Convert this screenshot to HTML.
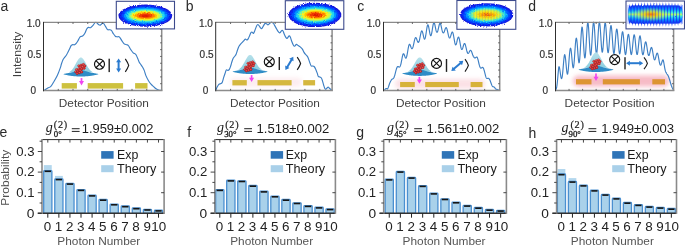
<!DOCTYPE html>
<html><head><meta charset="utf-8"><title>Figure</title><style>html,body{margin:0;padding:0;background:#fff;width:685px;height:246px;overflow:hidden}svg{display:block;will-change:transform}</style></head><body>
<svg width="685" height="246" viewBox="0 0 685 246"><defs>
<radialGradient id="jet" cx="0.5" cy="0.5" r="0.5">
  <stop offset="0" stop-color="#c80a00"/>
  <stop offset="0.14" stop-color="#f03000"/>
  <stop offset="0.28" stop-color="#ff8c00"/>
  <stop offset="0.40" stop-color="#ffe800"/>
  <stop offset="0.52" stop-color="#a8ff58"/>
  <stop offset="0.63" stop-color="#28f0e0"/>
  <stop offset="0.76" stop-color="#00a8ff"/>
  <stop offset="0.88" stop-color="#0848ff"/>
  <stop offset="0.97" stop-color="#0a10d8"/>
  <stop offset="1" stop-color="#2030d0" stop-opacity="0.4"/>
</radialGradient>
<radialGradient id="jetc" cx="0.5" cy="0.5" r="0.5">
  <stop offset="0" stop-color="#f05000"/>
  <stop offset="0.16" stop-color="#ff9800"/>
  <stop offset="0.30" stop-color="#f4f010"/>
  <stop offset="0.45" stop-color="#a0ff60"/>
  <stop offset="0.58" stop-color="#30f0d8"/>
  <stop offset="0.72" stop-color="#00b0ff"/>
  <stop offset="0.86" stop-color="#0850ff"/>
  <stop offset="0.96" stop-color="#0a10d8"/>
  <stop offset="1" stop-color="#2030d0" stop-opacity="0.4"/>
</radialGradient>
<radialGradient id="core" cx="0.5" cy="0.5" r="0.5">
  <stop offset="0" stop-color="#d81000" stop-opacity="0.95"/>
  <stop offset="0.45" stop-color="#f24000" stop-opacity="0.8"/>
  <stop offset="1" stop-color="#ff9000" stop-opacity="0"/>
</radialGradient>
<radialGradient id="pinkg" cx="0.5" cy="0.5" r="0.5">
  <stop offset="0" stop-color="#f8b8c4"/>
  <stop offset="0.6" stop-color="#f9c2cc"/>
  <stop offset="1" stop-color="#ffffff" stop-opacity="0"/>
</radialGradient>
<linearGradient id="gauss" x1="0" y1="0" x2="0" y2="1">
  <stop offset="0" stop-color="#b6e0ea"/>
  <stop offset="1" stop-color="#8ccfe0"/>
</linearGradient>
<linearGradient id="dstripe" x1="0" y1="0" x2="0" y2="1">
  <stop offset="0" stop-color="#1020d0" stop-opacity="0.6"/>
  <stop offset="0.14" stop-color="#0838f8"/>
  <stop offset="0.3" stop-color="#0898ff"/>
  <stop offset="0.42" stop-color="#40e8d8"/>
  <stop offset="0.5" stop-color="#b0f470"/>
  <stop offset="0.58" stop-color="#40e8d8"/>
  <stop offset="0.7" stop-color="#0898ff"/>
  <stop offset="0.86" stop-color="#0838f8"/>
  <stop offset="1" stop-color="#1020d0" stop-opacity="0.6"/>
</linearGradient>
<radialGradient id="dcore" cx="0.5" cy="0.5" r="0.5">
  <stop offset="0" stop-color="#ff7000" stop-opacity="0.95"/>
  <stop offset="0.35" stop-color="#ffd000" stop-opacity="0.8"/>
  <stop offset="0.7" stop-color="#e0f040" stop-opacity="0.35"/>
  <stop offset="1" stop-color="#e0f040" stop-opacity="0"/>
</radialGradient>
<radialGradient id="ball" cx="0.4" cy="0.4" r="0.6">
  <stop offset="0" stop-color="#f06060"/>
  <stop offset="0.6" stop-color="#dc3030"/>
  <stop offset="1" stop-color="#b82020"/>
</radialGradient>
<filter id="blur2" x="-20%" y="-60%" width="140%" height="220%"><feGaussianBlur stdDeviation="2.2"/></filter>
<filter id="blur06" x="-10%" y="-20%" width="120%" height="140%"><feGaussianBlur stdDeviation="0.7"/></filter>
<filter id="speck" x="-5%" y="-10%" width="110%" height="120%">
  <feGaussianBlur in="SourceGraphic" stdDeviation="0.6" result="b"/>
  <feTurbulence type="fractalNoise" baseFrequency="0.9" numOctaves="1" seed="3" result="n"/>
  <feDisplacementMap in="b" in2="n" scale="3.2" xChannelSelector="R" yChannelSelector="G"/>
</filter>
<filter id="speck2" x="-5%" y="-10%" width="110%" height="120%">
  <feGaussianBlur in="SourceGraphic" stdDeviation="0.3" result="b"/>
  <feTurbulence type="fractalNoise" baseFrequency="0.9" numOctaves="1" seed="7" result="n"/>
  <feDisplacementMap in="b" in2="n" scale="1.8" xChannelSelector="R" yChannelSelector="G"/>
</filter>
<filter id="blur1" x="-20%" y="-50%" width="140%" height="200%"><feGaussianBlur stdDeviation="1.6"/></filter>
<filter id="blur05"><feGaussianBlur stdDeviation="0.5"/></filter>
<clipPath id="clipc"><ellipse cx="486.6" cy="14.8" rx="26.6" ry="11.65"/></clipPath></defs><rect width="685" height="246" fill="#fff"/><text x="0.4" y="11.3" font-size="14" fill="#2a2a2a" text-anchor="start" font-family='"Liberation Sans", sans-serif' >a</text>
<text x="185.8" y="11" font-size="14" fill="#2a2a2a" text-anchor="start" font-family='"Liberation Sans", sans-serif' >b</text>
<text x="357.3" y="11.1" font-size="14" fill="#2a2a2a" text-anchor="start" font-family='"Liberation Sans", sans-serif' >c</text>
<text x="528.3" y="11.1" font-size="14" fill="#2a2a2a" text-anchor="start" font-family='"Liberation Sans", sans-serif' >d</text>
<text x="-0.6" y="137" font-size="14" fill="#2a2a2a" text-anchor="start" font-family='"Liberation Sans", sans-serif' >e</text>
<text x="187.2" y="137.3" font-size="14" fill="#2a2a2a" text-anchor="start" font-family='"Liberation Sans", sans-serif' >f</text>
<text x="356.3" y="137" font-size="14" fill="#2a2a2a" text-anchor="start" font-family='"Liberation Sans", sans-serif' >g</text>
<text x="528.6" y="137.6" font-size="14" fill="#2a2a2a" text-anchor="start" font-family='"Liberation Sans", sans-serif' >h</text>
<rect x="61.7" y="83.1" width="15.2" height="5.5" fill="#cdc13f"/>
<rect x="87.7" y="83.1" width="35.4" height="5.5" fill="#cdc13f"/>
<rect x="135.1" y="83.1" width="12.4" height="5.5" fill="#cdc13f"/>
<path d="M43.5,90.5 C43.67,90.45 43.78,90.62 44.5,90.2 C45.22,89.78 46.78,88.58 47.8,88 C48.82,87.42 49.65,87.65 50.6,86.7 C51.55,85.75 52.38,84.15 53.5,82.3 C54.62,80.45 56.17,78 57.3,75.6 C58.43,73.2 59.62,69.83 60.3,67.9 C60.98,65.97 60.93,65.42 61.4,64 C61.87,62.58 62.53,60.55 63.1,59.4 C63.67,58.25 64.22,57.87 64.8,57.1 C65.38,56.33 66.02,55.75 66.6,54.8 C67.18,53.85 67.73,52.53 68.3,51.4 C68.87,50.27 69.53,48.95 70,48 C70.47,47.05 70.63,46.27 71.1,45.7 C71.57,45.13 72.23,44.75 72.8,44.6 C73.37,44.45 73.93,45 74.5,44.8 C75.07,44.6 75.62,44.1 76.2,43.4 C76.78,42.7 77.35,41.7 78,40.6 C78.65,39.5 79.33,37.57 80.1,36.8 C80.87,36.03 81.78,36.63 82.6,36 C83.42,35.37 84.32,34.17 85,33 C85.68,31.83 86.15,29.93 86.7,29 C87.25,28.07 87.67,27.62 88.3,27.4 C88.93,27.18 89.68,28.08 90.5,27.7 C91.32,27.32 92.43,25.95 93.2,25.1 C93.97,24.25 94.57,23.03 95.1,22.6 C95.63,22.17 95.85,22.18 96.4,22.5 C96.95,22.82 97.75,24.07 98.4,24.5 C99.05,24.93 99.65,25.3 100.3,25.1 C100.95,24.9 101.75,23.6 102.3,23.3 C102.85,23 103.07,22.78 103.6,23.3 C104.13,23.82 104.85,25.35 105.5,26.4 C106.15,27.45 106.85,29.05 107.5,29.6 C108.15,30.15 108.75,29.58 109.4,29.7 C110.05,29.82 110.75,29.65 111.4,30.3 C112.05,30.95 112.65,32.62 113.3,33.6 C113.95,34.58 114.65,35.67 115.3,36.2 C115.95,36.73 116.53,36.68 117.2,36.8 C117.87,36.92 118.53,36.27 119.3,36.9 C120.07,37.53 120.98,39.43 121.8,40.6 C122.62,41.77 123.38,43.22 124.2,43.9 C125.02,44.58 126.02,44.43 126.7,44.7 C127.38,44.97 127.62,44.68 128.3,45.5 C128.98,46.32 129.98,48.38 130.8,49.6 C131.62,50.82 132.38,52 133.2,52.8 C134.02,53.6 135,53.58 135.7,54.4 C136.4,55.22 136.83,56.45 137.4,57.7 C137.97,58.95 138.53,60.77 139.1,61.9 C139.67,63.03 140.23,63.65 140.8,64.5 C141.37,65.35 141.93,66.02 142.5,67 C143.07,67.98 143.63,68.97 144.2,70.4 C144.77,71.83 145.18,73.88 145.9,75.6 C146.62,77.32 147.65,79.28 148.5,80.7 C149.35,82.12 150.15,83.12 151,84.1 C151.85,85.08 152.75,85.82 153.6,86.6 C154.45,87.38 155.25,88.23 156.1,88.8 C156.95,89.37 157.77,89.72 158.7,90 C159.63,90.28 161.2,90.42 161.7,90.5" fill="none" stroke="#3d7fc4" stroke-width="1.15" stroke-linejoin="round"/>
<path d="M68.9,72.21 L69.2,72.07 L69.5,71.91 L69.8,71.73 L70.1,71.53 L70.4,71.31 L70.7,71.08 L71,70.81 L71.3,70.53 L71.6,70.22 L71.9,69.89 L72.2,69.54 L72.5,69.16 L72.8,68.75 L73.1,68.33 L73.4,67.88 L73.7,67.4 L74,66.91 L74.3,66.4 L74.6,65.88 L74.9,65.34 L75.2,64.79 L75.5,64.24 L75.8,63.68 L76.1,63.12 L76.4,62.56 L76.7,62.02 L77,61.48 L77.3,60.96 L77.6,60.47 L77.9,59.99 L78.2,59.55 L78.5,59.15 L78.8,58.78 L79.1,58.45 L79.4,58.16 L79.7,57.93 L80,57.74 L80.3,57.61 L80.6,57.53 L80.9,57.5 L81.2,57.53 L81.5,57.61 L81.8,57.74 L82.1,57.93 L82.4,58.16 L82.7,58.45 L83,58.78 L83.3,59.15 L83.6,59.55 L83.9,59.99 L84.2,60.47 L84.5,60.96 L84.8,61.48 L85.1,62.02 L85.4,62.56 L85.7,63.12 L86,63.68 L86.3,64.24 L86.6,64.79 L86.9,65.34 L87.2,65.88 L87.5,66.4 L87.8,66.91 L88.1,67.4 L88.4,67.88 L88.7,68.33 L89,68.75 L89.3,69.16 L89.6,69.54 L89.9,69.89 L90.2,70.22 L90.5,70.53 L90.8,70.81 L91.1,71.08 L91.4,71.31 L91.7,71.53 L92,71.73 L92.3,71.91 L92.6,72.07 L92.9,72.21 Z" fill="url(#gauss)"/>
<path d="M63.4,74 L63.75,73.92 L64.1,73.85 L64.45,73.78 L64.8,73.7 L65.15,73.63 L65.5,73.57 L65.85,73.5 L66.2,73.43 L66.55,73.37 L66.9,73.3 L67.25,73.24 L67.6,73.17 L67.95,73.11 L68.3,73.05 L68.65,72.98 L69,72.92 L69.35,72.85 L69.7,72.79 L70.05,72.72 L70.4,72.65 L70.75,72.58 L71.1,72.51 L71.45,72.43 L71.8,72.35 L72.15,72.27 L72.5,72.19 L72.85,72.1 L73.2,72.01 L73.55,71.91 L73.9,71.81 L74.25,71.7 L74.6,71.6 L74.95,71.49 L75.3,71.37 L75.65,71.26 L76,71.14 L76.35,71.03 L76.7,70.92 L77.05,70.8 L77.4,70.7 L77.75,70.6 L78.1,70.5 L78.45,70.41 L78.8,70.33 L79.15,70.26 L79.5,70.21 L79.85,70.16 L80.2,70.13 L80.55,70.11 L80.9,70.1 L81.25,70.11 L81.6,70.13 L81.95,70.16 L82.3,70.21 L82.65,70.26 L83,70.33 L83.35,70.41 L83.7,70.5 L84.05,70.6 L84.4,70.7 L84.75,70.8 L85.1,70.92 L85.45,71.03 L85.8,71.14 L86.15,71.26 L86.5,71.37 L86.85,71.49 L87.2,71.6 L87.55,71.7 L87.9,71.81 L88.25,71.91 L88.6,72.01 L88.95,72.1 L89.3,72.19 L89.65,72.27 L90,72.35 L90.35,72.43 L90.7,72.51 L91.05,72.58 L91.4,72.65 L91.75,72.72 L92.1,72.79 L92.45,72.85 L92.8,72.92 L93.15,72.98 L93.5,73.05 L93.85,73.11 L94.2,73.17 L94.55,73.24 L94.9,73.3 L95.25,73.37 L95.6,73.43 L95.95,73.5 L96.3,73.57 L96.65,73.63 L97,73.7 L97.35,73.78 L97.7,73.85 L98.05,73.92 L98.4,74 L98.4,74.2 L98.05,74.33 L97.7,74.43 L97.35,74.53 L97,74.63 L96.65,74.72 L96.3,74.8 L95.95,74.89 L95.6,74.97 L95.25,75.04 L94.9,75.12 L94.55,75.19 L94.2,75.26 L93.85,75.33 L93.5,75.39 L93.15,75.45 L92.8,75.52 L92.45,75.57 L92.1,75.63 L91.75,75.69 L91.4,75.74 L91.05,75.79 L90.7,75.84 L90.35,75.89 L90,75.93 L89.65,75.98 L89.3,76.02 L88.95,76.06 L88.6,76.1 L88.25,76.13 L87.9,76.17 L87.55,76.2 L87.2,76.23 L86.85,76.26 L86.5,76.29 L86.15,76.31 L85.8,76.34 L85.45,76.36 L85.1,76.38 L84.75,76.4 L84.4,76.42 L84.05,76.43 L83.7,76.45 L83.35,76.46 L83,76.47 L82.65,76.48 L82.3,76.49 L81.95,76.49 L81.6,76.5 L81.25,76.5 L80.9,76.5 L80.55,76.5 L80.2,76.5 L79.85,76.49 L79.5,76.49 L79.15,76.48 L78.8,76.47 L78.45,76.46 L78.1,76.45 L77.75,76.43 L77.4,76.42 L77.05,76.4 L76.7,76.38 L76.35,76.36 L76,76.34 L75.65,76.31 L75.3,76.29 L74.95,76.26 L74.6,76.23 L74.25,76.2 L73.9,76.17 L73.55,76.13 L73.2,76.1 L72.85,76.06 L72.5,76.02 L72.15,75.98 L71.8,75.93 L71.45,75.89 L71.1,75.84 L70.75,75.79 L70.4,75.74 L70.05,75.69 L69.7,75.63 L69.35,75.57 L69,75.52 L68.65,75.45 L68.3,75.39 L67.95,75.33 L67.6,75.26 L67.25,75.19 L66.9,75.12 L66.55,75.04 L66.2,74.97 L65.85,74.89 L65.5,74.8 L65.15,74.72 L64.8,74.63 L64.45,74.53 L64.1,74.43 L63.75,74.33 L63.4,74.2 Z" fill="#2f8cc6"/>
<circle cx="75.69" cy="71.86" r="1.2" fill="url(#ball)" stroke="#a01818" stroke-width="0.35"/>
<circle cx="77.18" cy="73.41" r="1.2" fill="url(#ball)" stroke="#a01818" stroke-width="0.35"/>
<circle cx="76.49" cy="69.59" r="1.2" fill="url(#ball)" stroke="#a01818" stroke-width="0.35"/>
<circle cx="77.98" cy="71.14" r="1.2" fill="url(#ball)" stroke="#a01818" stroke-width="0.35"/>
<circle cx="79.47" cy="72.69" r="1.2" fill="url(#ball)" stroke="#a01818" stroke-width="0.35"/>
<circle cx="78.78" cy="68.87" r="1.2" fill="url(#ball)" stroke="#a01818" stroke-width="0.35"/>
<circle cx="80.27" cy="70.42" r="1.2" fill="url(#ball)" stroke="#a01818" stroke-width="0.35"/>
<circle cx="81.77" cy="71.97" r="1.2" fill="url(#ball)" stroke="#a01818" stroke-width="0.35"/>
<circle cx="78.83" cy="65.83" r="1.2" fill="url(#ball)" stroke="#a01818" stroke-width="0.35"/>
<circle cx="80.33" cy="67.38" r="1.2" fill="url(#ball)" stroke="#a01818" stroke-width="0.35"/>
<circle cx="81.82" cy="68.93" r="1.2" fill="url(#ball)" stroke="#a01818" stroke-width="0.35"/>
<circle cx="81.13" cy="65.11" r="1.2" fill="url(#ball)" stroke="#a01818" stroke-width="0.35"/>
<circle cx="82.62" cy="66.66" r="1.2" fill="url(#ball)" stroke="#a01818" stroke-width="0.35"/>
<circle cx="84.11" cy="68.21" r="1.2" fill="url(#ball)" stroke="#a01818" stroke-width="0.35"/>
<circle cx="83.42" cy="64.39" r="1.2" fill="url(#ball)" stroke="#a01818" stroke-width="0.35"/>
<circle cx="84.91" cy="65.94" r="1.2" fill="url(#ball)" stroke="#a01818" stroke-width="0.35"/>
<circle cx="99.5" cy="64.2" r="5" fill="#fff" fill-opacity="0.0" stroke="#111" stroke-width="1.15"/>
<path d="M95.96,60.66 L103.04,67.74 M95.96,67.74 L103.04,60.66" stroke="#111" stroke-width="1.1"/>
<rect x="108.5" y="58.7" width="1.4" height="13.4" fill="#222"/>
<line x1="118.6" y1="69.36" x2="118.6" y2="61.44" stroke="#2a7bd0" stroke-width="2"/>
<path d="M118.6,58.4 L121.1,62.2 L116.1,62.2 Z" fill="#2a7bd0"/>
<path d="M118.6,72.4 L121.1,68.6 L116.1,68.6 Z" fill="#2a7bd0"/>
<path d="M125.3,58.9 Q127.9,62.8 128.7,65.4 Q127.9,68 125.3,71.9" fill="none" stroke="#1a1a1a" stroke-width="1.15"/>
<line x1="81.5" y1="78.1" x2="81.5" y2="82.1" stroke="#f046f0" stroke-width="1.7"/>
<path d="M79,81.1 L84,81.1 L81.5,85.4 Z" fill="#f046f0"/>
<line x1="43.5" y1="22.4" x2="161.7" y2="22.4" stroke="#8a8a8a" stroke-width="1.1"/>
<line x1="43.5" y1="90.5" x2="162.5" y2="90.5" stroke="#8c8c8c" stroke-width="1.6"/>
<line x1="161.7" y1="22.4" x2="161.7" y2="90.5" stroke="#8c8c8c" stroke-width="1.5"/>
<line x1="43.5" y1="21.9" x2="43.5" y2="91.3" stroke="#303030" stroke-width="1.0"/>
<line x1="58.25" y1="22.4" x2="58.25" y2="24" stroke="#444" stroke-width="0.8"/>
<line x1="58.25" y1="90.5" x2="58.25" y2="88.9" stroke="#444" stroke-width="0.8"/>
<line x1="73" y1="22.4" x2="73" y2="24" stroke="#444" stroke-width="0.8"/>
<line x1="73" y1="90.5" x2="73" y2="88.9" stroke="#444" stroke-width="0.8"/>
<line x1="87.75" y1="22.4" x2="87.75" y2="24" stroke="#444" stroke-width="0.8"/>
<line x1="87.75" y1="90.5" x2="87.75" y2="88.9" stroke="#444" stroke-width="0.8"/>
<line x1="102.5" y1="22.4" x2="102.5" y2="24" stroke="#444" stroke-width="0.8"/>
<line x1="102.5" y1="90.5" x2="102.5" y2="88.9" stroke="#444" stroke-width="0.8"/>
<line x1="117.25" y1="22.4" x2="117.25" y2="24" stroke="#444" stroke-width="0.8"/>
<line x1="117.25" y1="90.5" x2="117.25" y2="88.9" stroke="#444" stroke-width="0.8"/>
<line x1="132" y1="22.4" x2="132" y2="24" stroke="#444" stroke-width="0.8"/>
<line x1="132" y1="90.5" x2="132" y2="88.9" stroke="#444" stroke-width="0.8"/>
<line x1="146.75" y1="22.4" x2="146.75" y2="24" stroke="#444" stroke-width="0.8"/>
<line x1="146.75" y1="90.5" x2="146.75" y2="88.9" stroke="#444" stroke-width="0.8"/>
<line x1="161.7" y1="83.69" x2="160.1" y2="83.69" stroke="#444" stroke-width="0.8"/>
<line x1="161.7" y1="76.88" x2="160.1" y2="76.88" stroke="#444" stroke-width="0.8"/>
<line x1="161.7" y1="70.07" x2="160.1" y2="70.07" stroke="#444" stroke-width="0.8"/>
<line x1="161.7" y1="63.26" x2="160.1" y2="63.26" stroke="#444" stroke-width="0.8"/>
<line x1="161.7" y1="56.45" x2="160.1" y2="56.45" stroke="#444" stroke-width="0.8"/>
<line x1="161.7" y1="49.64" x2="160.1" y2="49.64" stroke="#444" stroke-width="0.8"/>
<line x1="161.7" y1="42.83" x2="160.1" y2="42.83" stroke="#444" stroke-width="0.8"/>
<line x1="161.7" y1="36.02" x2="160.1" y2="36.02" stroke="#444" stroke-width="0.8"/>
<line x1="161.7" y1="29.21" x2="160.1" y2="29.21" stroke="#444" stroke-width="0.8"/>
<rect x="116.3" y="1.3" width="58.2" height="27.6" fill="#fff" stroke="#3c4a8c" stroke-width="1.1"/>
<g filter="url(#speck)">
<ellipse cx="145.35" cy="15.65" rx="26.85" ry="11.05" fill="#1818d8"/>
<ellipse cx="145.36" cy="15.65" rx="25.51" ry="10.17" fill="#0a28f4"/>
<ellipse cx="145.38" cy="15.65" rx="23.63" ry="9.17" fill="#0050ff"/>
<ellipse cx="145.4" cy="15.65" rx="21.48" ry="8.07" fill="#0094ff"/>
<ellipse cx="145.42" cy="15.65" rx="19.33" ry="6.96" fill="#20d4f0"/>
<ellipse cx="145.44" cy="15.65" rx="17.18" ry="5.97" fill="#68f4b0"/>
<ellipse cx="145.46" cy="15.65" rx="15.3" ry="5.19" fill="#c4f850"/>
<ellipse cx="145.47" cy="15.65" rx="13.43" ry="4.42" fill="#f8f020"/>
<ellipse cx="145.49" cy="15.65" rx="11.55" ry="3.65" fill="#ffc000"/>
<ellipse cx="145.51" cy="15.65" rx="9.4" ry="2.87" fill="#ff7a00"/>
<ellipse cx="145.54" cy="15.65" rx="6.71" ry="1.99" fill="#f03a00"/>
<ellipse cx="145.57" cy="15.65" rx="3.49" ry="0.99" fill="#dc1c00"/>
</g>
<text x="40.6" y="26.8" font-size="10" fill="#333" text-anchor="end" font-family='"Liberation Sans", sans-serif' stroke="#333" stroke-width="0.2">1.0</text>
<text x="41.3" y="58.3" font-size="10" fill="#333" text-anchor="end" font-family='"Liberation Sans", sans-serif' stroke="#333" stroke-width="0.2">0.5</text>
<text x="30.5" y="93.8" font-size="10" fill="#333" text-anchor="start" font-family='"Liberation Sans", sans-serif' stroke="#333" stroke-width="0.2">0</text>
<text x="103.8" y="106.5" font-size="11.8" fill="#404040" text-anchor="middle" font-family='"Liberation Sans", sans-serif' textLength="90" lengthAdjust="spacingAndGlyphs">Detector Position</text>
<rect x="230" y="77.8" width="72" height="9" rx="4.5" fill="#f6b4c0" opacity="0.24" filter="url(#blur2)"/>
<rect x="232.4" y="80.1" width="14.4" height="5.3" fill="#d5b83e"/>
<rect x="257.5" y="80.1" width="34.1" height="5.3" fill="#d5b83e"/>
<rect x="303.2" y="80.1" width="11.9" height="5.3" fill="#d5b83e"/>
<path d="M215.7,90.5 C215.88,90.03 216.28,88.73 216.8,87.7 C217.32,86.67 218.12,84.98 218.8,84.3 C219.48,83.62 220.32,83.95 220.9,83.6 C221.48,83.25 221.83,83.23 222.3,82.2 C222.77,81.17 223.23,78.9 223.7,77.4 C224.17,75.9 224.65,74.45 225.1,73.2 C225.55,71.95 225.95,70.37 226.4,69.9 C226.85,69.43 227.33,70.43 227.8,70.4 C228.27,70.37 228.73,70.38 229.2,69.7 C229.67,69.02 230.13,67.67 230.6,66.3 C231.07,64.93 231.57,62.83 232,61.5 C232.43,60.17 232.77,59.13 233.2,58.3 C233.63,57.47 234.12,57.18 234.6,56.5 C235.08,55.82 235.62,55.28 236.1,54.2 C236.58,53.12 237.02,51.32 237.5,50 C237.98,48.68 238.38,47.4 239,46.3 C239.62,45.2 240.47,44.25 241.2,43.4 C241.93,42.55 242.72,41.92 243.4,41.2 C244.08,40.48 244.7,39.3 245.3,39.1 C245.9,38.9 246.5,40.08 247,40 C247.5,39.92 247.85,39.37 248.3,38.6 C248.75,37.83 249.23,36.45 249.7,35.4 C250.17,34.35 250.67,32.82 251.1,32.3 C251.53,31.78 251.88,32.13 252.3,32.3 C252.72,32.47 253.15,33.67 253.6,33.3 C254.05,32.93 254.5,31.33 255,30.1 C255.5,28.87 256.13,26.83 256.6,25.9 C257.07,24.97 257.37,24.5 257.8,24.5 C258.23,24.5 258.73,25.32 259.2,25.9 C259.67,26.48 260.17,27.55 260.6,28 C261.03,28.45 261.33,28.95 261.8,28.6 C262.27,28.25 262.87,26.75 263.4,25.9 C263.93,25.05 264.47,23.85 265,23.5 C265.53,23.15 266.1,23.57 266.6,23.8 C267.1,24.03 267.47,24.98 268,24.9 C268.53,24.82 269.28,23.75 269.8,23.3 C270.32,22.85 270.67,22.32 271.1,22.2 C271.53,22.08 272,22.38 272.4,22.6 C272.8,22.82 273.07,22.92 273.5,23.5 C273.93,24.08 274.43,25.1 275,26.1 C275.57,27.1 276.28,28.48 276.9,29.5 C277.52,30.52 278.2,31.65 278.7,32.2 C279.2,32.75 279.38,33.1 279.9,32.8 C280.42,32.5 281.28,30.7 281.8,30.4 C282.32,30.1 282.6,30.4 283,31 C283.4,31.6 283.7,32.88 284.2,34 C284.7,35.12 285.5,36.98 286,37.7 C286.5,38.42 286.68,38.6 287.2,38.3 C287.72,38 288.58,36.1 289.1,35.9 C289.62,35.7 289.9,36.3 290.3,37.1 C290.7,37.9 291,39.38 291.5,40.7 C292,42.02 292.78,44.08 293.3,45 C293.82,45.92 294.08,46.3 294.6,46.2 C295.12,46.1 295.8,44.5 296.4,44.4 C297,44.3 297.57,45.18 298.2,45.6 C298.83,46.02 299.5,46.32 300.2,46.9 C300.9,47.48 301.78,48.23 302.4,49.1 C303.02,49.97 303.42,51.25 303.9,52.1 C304.38,52.95 304.82,53.6 305.3,54.2 C305.78,54.8 306.32,55.08 306.8,55.7 C307.28,56.32 307.72,56.8 308.2,57.9 C308.68,59 309.2,60.95 309.7,62.3 C310.2,63.65 310.72,65.38 311.2,66 C311.68,66.62 312.12,65.92 312.6,66 C313.08,66.08 313.58,65.97 314.1,66.5 C314.62,67.03 315.17,68.05 315.7,69.2 C316.23,70.35 316.87,72.2 317.3,73.4 C317.73,74.6 317.87,75.78 318.3,76.4 C318.73,77.02 319.37,76.8 319.9,77.1 C320.43,77.4 321.05,77.5 321.5,78.2 C321.95,78.9 322.25,80.17 322.6,81.3 C322.95,82.43 323.25,83.85 323.6,85 C323.95,86.15 324.33,87.48 324.7,88.2 C325.07,88.92 325.37,89.38 325.8,89.3 C326.23,89.22 326.87,88.05 327.3,87.7 C327.73,87.35 327.95,87.02 328.4,87.2 C328.85,87.38 329.38,88.25 330,88.8 C330.62,89.35 331.75,90.22 332.1,90.5" fill="none" stroke="#3d7fc4" stroke-width="1.15" stroke-linejoin="round"/>
<path d="M238.1,69.71 L238.4,69.56 L238.7,69.4 L239,69.22 L239.3,69.02 L239.6,68.8 L239.9,68.56 L240.2,68.3 L240.5,68.01 L240.8,67.7 L241.1,67.37 L241.4,67.01 L241.7,66.63 L242,66.22 L242.3,65.79 L242.6,65.34 L242.9,64.87 L243.2,64.37 L243.5,63.86 L243.8,63.33 L244.1,62.79 L244.4,62.24 L244.7,61.68 L245,61.12 L245.3,60.55 L245.6,59.99 L245.9,59.44 L246.2,58.91 L246.5,58.38 L246.8,57.88 L247.1,57.41 L247.4,56.97 L247.7,56.56 L248,56.18 L248.3,55.85 L248.6,55.57 L248.9,55.33 L249.2,55.14 L249.5,55.01 L249.8,54.93 L250.1,54.9 L250.4,54.93 L250.7,55.01 L251,55.14 L251.3,55.33 L251.6,55.57 L251.9,55.85 L252.2,56.18 L252.5,56.56 L252.8,56.97 L253.1,57.41 L253.4,57.88 L253.7,58.38 L254,58.91 L254.3,59.44 L254.6,59.99 L254.9,60.55 L255.2,61.12 L255.5,61.68 L255.8,62.24 L256.1,62.79 L256.4,63.33 L256.7,63.86 L257,64.37 L257.3,64.87 L257.6,65.34 L257.9,65.79 L258.2,66.22 L258.5,66.63 L258.8,67.01 L259.1,67.37 L259.4,67.7 L259.7,68.01 L260,68.3 L260.3,68.56 L260.6,68.8 L260.9,69.02 L261.2,69.22 L261.5,69.4 L261.8,69.56 L262.1,69.71 Z" fill="url(#gauss)"/>
<path d="M232.6,71.5 L232.95,71.42 L233.3,71.35 L233.65,71.28 L234,71.2 L234.35,71.13 L234.7,71.07 L235.05,71 L235.4,70.93 L235.75,70.87 L236.1,70.8 L236.45,70.74 L236.8,70.67 L237.15,70.61 L237.5,70.55 L237.85,70.48 L238.2,70.42 L238.55,70.35 L238.9,70.29 L239.25,70.22 L239.6,70.15 L239.95,70.08 L240.3,70.01 L240.65,69.93 L241,69.85 L241.35,69.77 L241.7,69.69 L242.05,69.6 L242.4,69.51 L242.75,69.41 L243.1,69.31 L243.45,69.2 L243.8,69.1 L244.15,68.99 L244.5,68.87 L244.85,68.76 L245.2,68.64 L245.55,68.53 L245.9,68.42 L246.25,68.3 L246.6,68.2 L246.95,68.1 L247.3,68 L247.65,67.91 L248,67.83 L248.35,67.76 L248.7,67.71 L249.05,67.66 L249.4,67.63 L249.75,67.61 L250.1,67.6 L250.45,67.61 L250.8,67.63 L251.15,67.66 L251.5,67.71 L251.85,67.76 L252.2,67.83 L252.55,67.91 L252.9,68 L253.25,68.1 L253.6,68.2 L253.95,68.3 L254.3,68.42 L254.65,68.53 L255,68.64 L255.35,68.76 L255.7,68.87 L256.05,68.99 L256.4,69.1 L256.75,69.2 L257.1,69.31 L257.45,69.41 L257.8,69.51 L258.15,69.6 L258.5,69.69 L258.85,69.77 L259.2,69.85 L259.55,69.93 L259.9,70.01 L260.25,70.08 L260.6,70.15 L260.95,70.22 L261.3,70.29 L261.65,70.35 L262,70.42 L262.35,70.48 L262.7,70.55 L263.05,70.61 L263.4,70.67 L263.75,70.74 L264.1,70.8 L264.45,70.87 L264.8,70.93 L265.15,71 L265.5,71.07 L265.85,71.13 L266.2,71.2 L266.55,71.28 L266.9,71.35 L267.25,71.42 L267.6,71.5 L267.6,71.7 L267.25,71.83 L266.9,71.93 L266.55,72.03 L266.2,72.13 L265.85,72.22 L265.5,72.3 L265.15,72.39 L264.8,72.47 L264.45,72.54 L264.1,72.62 L263.75,72.69 L263.4,72.76 L263.05,72.83 L262.7,72.89 L262.35,72.95 L262,73.02 L261.65,73.07 L261.3,73.13 L260.95,73.19 L260.6,73.24 L260.25,73.29 L259.9,73.34 L259.55,73.39 L259.2,73.43 L258.85,73.48 L258.5,73.52 L258.15,73.56 L257.8,73.6 L257.45,73.63 L257.1,73.67 L256.75,73.7 L256.4,73.73 L256.05,73.76 L255.7,73.79 L255.35,73.81 L255,73.84 L254.65,73.86 L254.3,73.88 L253.95,73.9 L253.6,73.92 L253.25,73.93 L252.9,73.95 L252.55,73.96 L252.2,73.97 L251.85,73.98 L251.5,73.99 L251.15,73.99 L250.8,74 L250.45,74 L250.1,74 L249.75,74 L249.4,74 L249.05,73.99 L248.7,73.99 L248.35,73.98 L248,73.97 L247.65,73.96 L247.3,73.95 L246.95,73.93 L246.6,73.92 L246.25,73.9 L245.9,73.88 L245.55,73.86 L245.2,73.84 L244.85,73.81 L244.5,73.79 L244.15,73.76 L243.8,73.73 L243.45,73.7 L243.1,73.67 L242.75,73.63 L242.4,73.6 L242.05,73.56 L241.7,73.52 L241.35,73.48 L241,73.43 L240.65,73.39 L240.3,73.34 L239.95,73.29 L239.6,73.24 L239.25,73.19 L238.9,73.13 L238.55,73.07 L238.2,73.02 L237.85,72.95 L237.5,72.89 L237.15,72.83 L236.8,72.76 L236.45,72.69 L236.1,72.62 L235.75,72.54 L235.4,72.47 L235.05,72.39 L234.7,72.3 L234.35,72.22 L234,72.13 L233.65,72.03 L233.3,71.93 L232.95,71.83 L232.6,71.7 Z" fill="#2f8cc6"/>
<circle cx="244.89" cy="69.36" r="1.2" fill="url(#ball)" stroke="#a01818" stroke-width="0.35"/>
<circle cx="246.38" cy="70.91" r="1.2" fill="url(#ball)" stroke="#a01818" stroke-width="0.35"/>
<circle cx="245.69" cy="67.09" r="1.2" fill="url(#ball)" stroke="#a01818" stroke-width="0.35"/>
<circle cx="247.18" cy="68.64" r="1.2" fill="url(#ball)" stroke="#a01818" stroke-width="0.35"/>
<circle cx="248.67" cy="70.19" r="1.2" fill="url(#ball)" stroke="#a01818" stroke-width="0.35"/>
<circle cx="247.98" cy="66.37" r="1.2" fill="url(#ball)" stroke="#a01818" stroke-width="0.35"/>
<circle cx="249.47" cy="67.92" r="1.2" fill="url(#ball)" stroke="#a01818" stroke-width="0.35"/>
<circle cx="250.97" cy="69.47" r="1.2" fill="url(#ball)" stroke="#a01818" stroke-width="0.35"/>
<circle cx="248.03" cy="63.33" r="1.2" fill="url(#ball)" stroke="#a01818" stroke-width="0.35"/>
<circle cx="249.53" cy="64.88" r="1.2" fill="url(#ball)" stroke="#a01818" stroke-width="0.35"/>
<circle cx="251.02" cy="66.43" r="1.2" fill="url(#ball)" stroke="#a01818" stroke-width="0.35"/>
<circle cx="250.33" cy="62.61" r="1.2" fill="url(#ball)" stroke="#a01818" stroke-width="0.35"/>
<circle cx="251.82" cy="64.16" r="1.2" fill="url(#ball)" stroke="#a01818" stroke-width="0.35"/>
<circle cx="253.31" cy="65.71" r="1.2" fill="url(#ball)" stroke="#a01818" stroke-width="0.35"/>
<circle cx="252.62" cy="61.89" r="1.2" fill="url(#ball)" stroke="#a01818" stroke-width="0.35"/>
<circle cx="254.11" cy="63.44" r="1.2" fill="url(#ball)" stroke="#a01818" stroke-width="0.35"/>
<circle cx="269.3" cy="61.7" r="5" fill="#fff" fill-opacity="0.0" stroke="#111" stroke-width="1.15"/>
<path d="M265.76,58.16 L272.84,65.24 M265.76,65.24 L272.84,58.16" stroke="#111" stroke-width="1.1"/>
<rect x="278.6" y="57" width="1.4" height="13" fill="#222"/>
<line x1="286.96" y1="67.39" x2="291.74" y2="59.41" stroke="#2a7bd0" stroke-width="2"/>
<path d="M293.3,56.8 L293.49,61.34 L289.2,58.78 Z" fill="#2a7bd0"/>
<path d="M285.4,70 L289.5,68.02 L285.21,65.46 Z" fill="#2a7bd0"/>
<path d="M297.2,57.2 Q299.8,60.9 300.6,63.5 Q299.8,66.1 297.2,69.8" fill="none" stroke="#1a1a1a" stroke-width="1.15"/>
<line x1="251.6" y1="75.1" x2="251.6" y2="78.7" stroke="#f046f0" stroke-width="1.7"/>
<path d="M249.1,77.7 L254.1,77.7 L251.6,82 Z" fill="#f046f0"/>
<line x1="215.7" y1="22.4" x2="332.1" y2="22.4" stroke="#8a8a8a" stroke-width="1.1"/>
<line x1="215.7" y1="90.5" x2="332.9" y2="90.5" stroke="#8c8c8c" stroke-width="1.6"/>
<line x1="332.1" y1="22.4" x2="332.1" y2="90.5" stroke="#8c8c8c" stroke-width="1.5"/>
<line x1="215.7" y1="21.9" x2="215.7" y2="91.3" stroke="#303030" stroke-width="1.0"/>
<line x1="230.57" y1="22.4" x2="230.57" y2="24" stroke="#444" stroke-width="0.8"/>
<line x1="230.57" y1="90.5" x2="230.57" y2="88.9" stroke="#444" stroke-width="0.8"/>
<line x1="245.44" y1="22.4" x2="245.44" y2="24" stroke="#444" stroke-width="0.8"/>
<line x1="245.44" y1="90.5" x2="245.44" y2="88.9" stroke="#444" stroke-width="0.8"/>
<line x1="260.31" y1="22.4" x2="260.31" y2="24" stroke="#444" stroke-width="0.8"/>
<line x1="260.31" y1="90.5" x2="260.31" y2="88.9" stroke="#444" stroke-width="0.8"/>
<line x1="275.18" y1="22.4" x2="275.18" y2="24" stroke="#444" stroke-width="0.8"/>
<line x1="275.18" y1="90.5" x2="275.18" y2="88.9" stroke="#444" stroke-width="0.8"/>
<line x1="290.05" y1="22.4" x2="290.05" y2="24" stroke="#444" stroke-width="0.8"/>
<line x1="290.05" y1="90.5" x2="290.05" y2="88.9" stroke="#444" stroke-width="0.8"/>
<line x1="304.92" y1="22.4" x2="304.92" y2="24" stroke="#444" stroke-width="0.8"/>
<line x1="304.92" y1="90.5" x2="304.92" y2="88.9" stroke="#444" stroke-width="0.8"/>
<line x1="319.79" y1="22.4" x2="319.79" y2="24" stroke="#444" stroke-width="0.8"/>
<line x1="319.79" y1="90.5" x2="319.79" y2="88.9" stroke="#444" stroke-width="0.8"/>
<line x1="332.1" y1="83.69" x2="330.5" y2="83.69" stroke="#444" stroke-width="0.8"/>
<line x1="332.1" y1="76.88" x2="330.5" y2="76.88" stroke="#444" stroke-width="0.8"/>
<line x1="332.1" y1="70.07" x2="330.5" y2="70.07" stroke="#444" stroke-width="0.8"/>
<line x1="332.1" y1="63.26" x2="330.5" y2="63.26" stroke="#444" stroke-width="0.8"/>
<line x1="332.1" y1="56.45" x2="330.5" y2="56.45" stroke="#444" stroke-width="0.8"/>
<line x1="332.1" y1="49.64" x2="330.5" y2="49.64" stroke="#444" stroke-width="0.8"/>
<line x1="332.1" y1="42.83" x2="330.5" y2="42.83" stroke="#444" stroke-width="0.8"/>
<line x1="332.1" y1="36.02" x2="330.5" y2="36.02" stroke="#444" stroke-width="0.8"/>
<line x1="332.1" y1="29.21" x2="330.5" y2="29.21" stroke="#444" stroke-width="0.8"/>
<rect x="285.3" y="0.7" width="58.5" height="28.6" fill="#fff" stroke="#3c4a8c" stroke-width="1.1"/>
<g filter="url(#speck)">
<ellipse cx="314.85" cy="14.95" rx="26.45" ry="12.15" fill="#1818d8"/>
<ellipse cx="314.92" cy="14.95" rx="25.13" ry="11.18" fill="#0a28f4"/>
<ellipse cx="315.01" cy="14.95" rx="23.28" ry="10.08" fill="#0050ff"/>
<ellipse cx="315.12" cy="14.95" rx="21.16" ry="8.87" fill="#0094ff"/>
<ellipse cx="315.23" cy="14.95" rx="19.04" ry="7.65" fill="#20d4f0"/>
<ellipse cx="315.34" cy="14.95" rx="16.93" ry="6.56" fill="#68f4b0"/>
<ellipse cx="315.43" cy="14.95" rx="15.08" ry="5.71" fill="#c4f850"/>
<ellipse cx="315.52" cy="14.95" rx="13.22" ry="4.86" fill="#f8f020"/>
<ellipse cx="315.62" cy="14.95" rx="11.37" ry="4.01" fill="#ffc000"/>
<ellipse cx="315.73" cy="14.95" rx="9.26" ry="3.16" fill="#ff7a00"/>
<ellipse cx="315.86" cy="14.95" rx="6.61" ry="2.19" fill="#f03a00"/>
<ellipse cx="316.02" cy="14.95" rx="3.44" ry="1.09" fill="#dc1c00"/>
</g>
<text x="212.8" y="26.8" font-size="10" fill="#333" text-anchor="end" font-family='"Liberation Sans", sans-serif' stroke="#333" stroke-width="0.2">1.0</text>
<text x="213.5" y="58.3" font-size="10" fill="#333" text-anchor="end" font-family='"Liberation Sans", sans-serif' stroke="#333" stroke-width="0.2">0.5</text>
<text x="202.7" y="93.8" font-size="10" fill="#333" text-anchor="start" font-family='"Liberation Sans", sans-serif' stroke="#333" stroke-width="0.2">0</text>
<text x="274.95" y="106.5" font-size="11.8" fill="#404040" text-anchor="middle" font-family='"Liberation Sans", sans-serif' textLength="90" lengthAdjust="spacingAndGlyphs">Detector Position</text>
<rect x="395" y="79" width="90" height="9.8" rx="4.9" fill="#f6b4c0" opacity="0.4" filter="url(#blur2)"/>
<rect x="400.1" y="82" width="14.7" height="5.1" fill="#d7b23a"/>
<rect x="425.2" y="82" width="33.6" height="5.1" fill="#d7b23a"/>
<rect x="470.6" y="82" width="11.9" height="5.1" fill="#d7b23a"/>
<path d="M383.5,90.5 L383.75,90.39 L384,90.27 L384.25,90.16 L384.5,90.05 L384.75,89.78 L385,89.44 L385.25,89.13 L385.5,88.89 L385.75,88.71 L386,88.61 L386.25,88.59 L386.5,88.62 L386.75,88.68 L387,88.76 L387.25,88.82 L387.5,88.82 L387.75,88.53 L388,88.01 L388.25,87.4 L388.5,86.73 L388.75,86.01 L389,85.26 L389.25,84.52 L389.5,83.8 L389.75,83.12 L390,82.5 L390.25,81.95 L390.5,81.47 L390.75,81.07 L391,80.59 L391.25,80.15 L391.5,79.79 L391.75,79.5 L392,79.28 L392.25,79.11 L392.5,78.97 L392.75,78.84 L393,78.69 L393.25,78.5 L393.5,78.23 L393.75,77.88 L394,77.41 L394.25,76.83 L394.5,76.13 L394.75,75.33 L395,74.44 L395.25,73.47 L395.5,72.47 L395.75,71.45 L396,70.47 L396.25,69.54 L396.5,68.7 L396.75,67.99 L397,67.41 L397.25,66.97 L397.5,66.69 L397.75,66.55 L398,66.53 L398.25,66.61 L398.5,66.74 L398.75,66.9 L399,67.02 L399.25,67.09 L399.5,67.04 L399.75,66.85 L400,66.5 L400.25,66.07 L400.5,65.44 L400.75,64.62 L401,63.61 L401.25,62.45 L401.5,61.17 L401.75,59.83 L402,58.48 L402.25,57.19 L402.5,56.02 L402.75,55.02 L403,54.24 L403.25,53.81 L403.5,53.71 L403.75,53.86 L404,54.23 L404.25,54.77 L404.5,55.42 L404.75,56.13 L405,56.82 L405.25,57.42 L405.5,57.86 L405.75,58.11 L406,58.1 L406.25,57.81 L406.5,57.21 L406.75,56.34 L407,55.24 L407.25,53.94 L407.5,52.51 L407.75,51.01 L408,49.52 L408.25,48.11 L408.5,46.83 L408.75,45.76 L409,44.93 L409.25,44.38 L409.5,44.21 L409.75,44.32 L410,44.67 L410.25,45.2 L410.5,45.85 L410.75,46.55 L411,47.24 L411.25,47.84 L411.5,48.32 L411.75,48.61 L412,48.68 L412.25,48.51 L412.5,48.16 L412.75,47.66 L413,46.94 L413.25,46.04 L413.5,44.98 L413.75,43.82 L414,42.62 L414.25,41.44 L414.5,40.34 L414.75,39.38 L415,38.6 L415.25,38.03 L415.5,37.7 L415.75,37.6 L416,37.74 L416.25,38.1 L416.5,38.62 L416.75,39.27 L417,39.98 L417.25,40.69 L417.5,41.35 L417.75,41.88 L418,42.24 L418.25,42.39 L418.5,42.3 L418.75,42.07 L419,41.57 L419.25,40.83 L419.5,39.86 L419.75,38.71 L420,37.44 L420.25,36.11 L420.5,34.81 L420.75,33.59 L421,32.53 L421.25,31.7 L421.5,31.14 L421.75,30.9 L422,30.99 L422.25,31.38 L422.5,32.04 L422.75,32.93 L423,33.99 L423.25,35.12 L423.5,36.25 L423.75,37.29 L424,38.16 L424.25,38.78 L424.5,39.09 L424.75,39.06 L425,38.66 L425.25,37.91 L425.5,36.83 L425.75,35.47 L426,33.91 L426.25,32.22 L426.5,30.52 L426.75,28.89 L427,27.43 L427.25,26.23 L427.5,25.35 L427.75,24.85 L428,24.88 L428.25,25.34 L428.5,26.15 L428.75,27.25 L429,28.56 L429.25,29.99 L429.5,31.43 L429.75,32.79 L430,33.98 L430.25,34.9 L430.5,35.51 L430.75,35.74 L431,35.59 L431.25,35.05 L431.5,34.16 L431.75,32.97 L432,31.55 L432.25,30 L432.5,28.39 L432.75,26.84 L433,25.43 L433.25,24.24 L433.5,23.34 L433.75,22.77 L434,22.62 L434.25,22.89 L434.5,23.49 L434.75,24.37 L435,25.46 L435.25,26.67 L435.5,27.93 L435.75,29.15 L436,30.24 L436.25,31.14 L436.5,31.79 L436.75,32.14 L437,32.2 L437.25,32.11 L437.5,31.73 L437.75,31.09 L438,30.21 L438.25,29.17 L438.5,28.03 L438.75,26.86 L439,25.75 L439.25,24.76 L439.5,23.96 L439.75,23.4 L440,23.13 L440.25,23.25 L440.5,23.73 L440.75,24.48 L441,25.42 L441.25,26.52 L441.5,27.69 L441.75,28.86 L442,29.97 L442.25,30.96 L442.5,31.76 L442.75,32.35 L443,32.7 L443.25,32.84 L443.5,32.88 L443.75,32.69 L444,32.3 L444.25,31.74 L444.5,31.05 L444.75,30.3 L445,29.55 L445.25,28.85 L445.5,28.27 L445.75,27.85 L446,27.64 L446.25,27.67 L446.5,27.93 L446.75,28.43 L447,29.16 L447.25,30.08 L447.5,31.15 L447.75,32.3 L448,33.49 L448.25,34.64 L448.5,35.69 L448.75,36.59 L449,37.28 L449.25,37.74 L449.5,37.98 L449.75,38 L450,37.77 L450.25,37.3 L450.5,36.65 L450.75,35.86 L451,35 L451.25,34.13 L451.5,33.33 L451.75,32.67 L452,32.21 L452.25,32 L452.5,32.09 L452.75,32.49 L453,33.19 L453.25,34.16 L453.5,35.36 L453.75,36.73 L454,38.19 L454.25,39.68 L454.5,41.1 L454.75,42.39 L455,43.47 L455.25,44.28 L455.5,44.78 L455.75,44.9 L456,44.66 L456.25,44.13 L456.5,43.35 L456.75,42.39 L457,41.32 L457.25,40.23 L457.5,39.2 L457.75,38.3 L458,37.61 L458.25,37.19 L458.5,37.06 L458.75,37.29 L459,37.87 L459.25,38.73 L459.5,39.84 L459.75,41.14 L460,42.55 L460.25,44 L460.5,45.4 L460.75,46.68 L461,47.79 L461.25,48.65 L461.5,49.24 L461.75,49.53 L462,49.5 L462.25,49.2 L462.5,48.67 L462.75,47.96 L463,47.13 L463.25,46.26 L463.5,45.41 L463.75,44.65 L464,44.05 L464.25,43.64 L464.5,43.47 L464.75,43.55 L465,43.91 L465.25,44.5 L465.5,45.3 L465.75,46.27 L466,47.34 L466.25,48.47 L466.5,49.58 L466.75,50.63 L467,51.55 L467.25,52.32 L467.5,52.9 L467.75,53.28 L468,53.44 L468.25,53.41 L468.5,53.21 L468.75,52.87 L469,52.43 L469.25,51.95 L469.5,51.46 L469.75,51.02 L470,50.66 L470.25,50.42 L470.5,50.33 L470.75,50.39 L471,50.61 L471.25,50.97 L471.5,51.47 L471.75,52.08 L472,52.76 L472.25,53.5 L472.5,54.24 L472.75,54.95 L473,55.6 L473.25,56.17 L473.5,56.64 L473.75,57 L474,57.23 L474.25,57.52 L474.5,57.79 L474.75,57.94 L475,57.98 L475.25,57.91 L475.5,57.76 L475.75,57.57 L476,57.35 L476.25,57.17 L476.5,57.04 L476.75,57.01 L477,57.12 L477.25,57.48 L477.5,58.07 L477.75,58.81 L478,59.68 L478.25,60.65 L478.5,61.68 L478.75,62.75 L479,63.79 L479.25,64.78 L479.5,65.69 L479.75,66.46 L480,67.1 L480.25,67.58 L480.5,67.91 L480.75,68.09 L481,68.14 L481.25,68.07 L481.5,67.93 L481.75,67.76 L482,67.58 L482.25,67.44 L482.5,67.38 L482.75,67.42 L483,67.6 L483.25,67.92 L483.5,68.41 L483.75,69.06 L484,69.84 L484.25,70.72 L484.5,71.69 L484.75,72.7 L485,73.71 L485.25,74.7 L485.5,75.62 L485.75,76.44 L486,77.15 L486.25,77.72 L486.5,78.12 L486.75,78.35 L487,78.45 L487.25,78.47 L487.5,78.43 L487.75,78.36 L488,78.3 L488.25,78.27 L488.5,78.31 L488.75,78.43 L489,78.65 L489.25,78.97 L489.5,79.36 L489.75,79.81 L490,80.34 L490.25,80.94 L490.5,81.6 L490.75,82.29 L491,82.99 L491.25,83.68 L491.5,84.33 L491.75,84.94 L492,85.49 L492.25,85.96 L492.5,86.36 L492.75,86.58 L493,86.66 L493.25,86.72 L493.5,86.78 L493.75,86.86 L494,86.98 L494.25,87.16 L494.5,87.4 L494.75,87.7 L495,88.05 L495.25,88.44 L495.5,88.84 L495.75,89.05 L496,89.13 L496.25,89.2 L496.5,89.27 L496.75,89.34 L497,89.42 L497.25,89.52 L497.5,89.63 L497.75,89.72 L498,89.81 L498.25,89.91 L498.5,90.01 L498.75,90.11 L499,90.21 L499.25,90.32 L499.5,90.42" fill="none" stroke="#3d7fc4" stroke-width="1.15" stroke-linejoin="round"/>
<path d="M407.7,71.65 L408,71.51 L408.3,71.35 L408.6,71.18 L408.9,70.99 L409.2,70.77 L409.5,70.54 L409.8,70.29 L410.1,70.02 L410.4,69.72 L410.7,69.4 L411,69.05 L411.3,68.68 L411.6,68.29 L411.9,67.88 L412.2,67.44 L412.5,66.99 L412.8,66.51 L413.1,66.02 L413.4,65.51 L413.7,64.99 L414,64.46 L414.3,63.92 L414.6,63.38 L414.9,62.84 L415.2,62.3 L415.5,61.77 L415.8,61.25 L416.1,60.75 L416.4,60.27 L416.7,59.81 L417,59.39 L417.3,58.99 L417.6,58.64 L417.9,58.32 L418.2,58.04 L418.5,57.81 L418.8,57.63 L419.1,57.5 L419.4,57.43 L419.7,57.4 L420,57.43 L420.3,57.5 L420.6,57.63 L420.9,57.81 L421.2,58.04 L421.5,58.32 L421.8,58.64 L422.1,58.99 L422.4,59.39 L422.7,59.81 L423,60.27 L423.3,60.75 L423.6,61.25 L423.9,61.77 L424.2,62.3 L424.5,62.84 L424.8,63.38 L425.1,63.92 L425.4,64.46 L425.7,64.99 L426,65.51 L426.3,66.02 L426.6,66.51 L426.9,66.99 L427.2,67.44 L427.5,67.88 L427.8,68.29 L428.1,68.68 L428.4,69.05 L428.7,69.4 L429,69.72 L429.3,70.02 L429.6,70.29 L429.9,70.54 L430.2,70.77 L430.5,70.99 L430.8,71.18 L431.1,71.35 L431.4,71.51 L431.7,71.65 Z" fill="url(#gauss)"/>
<path d="M402.2,73.4 L402.55,73.32 L402.9,73.25 L403.25,73.18 L403.6,73.1 L403.95,73.03 L404.3,72.97 L404.65,72.9 L405,72.83 L405.35,72.77 L405.7,72.7 L406.05,72.64 L406.4,72.57 L406.75,72.51 L407.1,72.45 L407.45,72.38 L407.8,72.32 L408.15,72.25 L408.5,72.19 L408.85,72.12 L409.2,72.05 L409.55,71.98 L409.9,71.91 L410.25,71.83 L410.6,71.75 L410.95,71.67 L411.3,71.59 L411.65,71.5 L412,71.41 L412.35,71.31 L412.7,71.21 L413.05,71.1 L413.4,71 L413.75,70.89 L414.1,70.77 L414.45,70.66 L414.8,70.54 L415.15,70.43 L415.5,70.32 L415.85,70.2 L416.2,70.1 L416.55,70 L416.9,69.9 L417.25,69.81 L417.6,69.73 L417.95,69.66 L418.3,69.61 L418.65,69.56 L419,69.53 L419.35,69.51 L419.7,69.5 L420.05,69.51 L420.4,69.53 L420.75,69.56 L421.1,69.61 L421.45,69.66 L421.8,69.73 L422.15,69.81 L422.5,69.9 L422.85,70 L423.2,70.1 L423.55,70.2 L423.9,70.32 L424.25,70.43 L424.6,70.54 L424.95,70.66 L425.3,70.77 L425.65,70.89 L426,71 L426.35,71.1 L426.7,71.21 L427.05,71.31 L427.4,71.41 L427.75,71.5 L428.1,71.59 L428.45,71.67 L428.8,71.75 L429.15,71.83 L429.5,71.91 L429.85,71.98 L430.2,72.05 L430.55,72.12 L430.9,72.19 L431.25,72.25 L431.6,72.32 L431.95,72.38 L432.3,72.45 L432.65,72.51 L433,72.57 L433.35,72.64 L433.7,72.7 L434.05,72.77 L434.4,72.83 L434.75,72.9 L435.1,72.97 L435.45,73.03 L435.8,73.1 L436.15,73.18 L436.5,73.25 L436.85,73.32 L437.2,73.4 L437.2,73.6 L436.85,73.73 L436.5,73.83 L436.15,73.93 L435.8,74.03 L435.45,74.12 L435.1,74.2 L434.75,74.29 L434.4,74.37 L434.05,74.44 L433.7,74.52 L433.35,74.59 L433,74.66 L432.65,74.73 L432.3,74.79 L431.95,74.85 L431.6,74.92 L431.25,74.97 L430.9,75.03 L430.55,75.09 L430.2,75.14 L429.85,75.19 L429.5,75.24 L429.15,75.29 L428.8,75.33 L428.45,75.38 L428.1,75.42 L427.75,75.46 L427.4,75.5 L427.05,75.53 L426.7,75.57 L426.35,75.6 L426,75.63 L425.65,75.66 L425.3,75.69 L424.95,75.71 L424.6,75.74 L424.25,75.76 L423.9,75.78 L423.55,75.8 L423.2,75.82 L422.85,75.83 L422.5,75.85 L422.15,75.86 L421.8,75.87 L421.45,75.88 L421.1,75.89 L420.75,75.89 L420.4,75.9 L420.05,75.9 L419.7,75.9 L419.35,75.9 L419,75.9 L418.65,75.89 L418.3,75.89 L417.95,75.88 L417.6,75.87 L417.25,75.86 L416.9,75.85 L416.55,75.83 L416.2,75.82 L415.85,75.8 L415.5,75.78 L415.15,75.76 L414.8,75.74 L414.45,75.71 L414.1,75.69 L413.75,75.66 L413.4,75.63 L413.05,75.6 L412.7,75.57 L412.35,75.53 L412,75.5 L411.65,75.46 L411.3,75.42 L410.95,75.38 L410.6,75.33 L410.25,75.29 L409.9,75.24 L409.55,75.19 L409.2,75.14 L408.85,75.09 L408.5,75.03 L408.15,74.97 L407.8,74.92 L407.45,74.85 L407.1,74.79 L406.75,74.73 L406.4,74.66 L406.05,74.59 L405.7,74.52 L405.35,74.44 L405,74.37 L404.65,74.29 L404.3,74.2 L403.95,74.12 L403.6,74.03 L403.25,73.93 L402.9,73.83 L402.55,73.73 L402.2,73.6 Z" fill="#2f8cc6"/>
<circle cx="414.49" cy="71.26" r="1.2" fill="url(#ball)" stroke="#a01818" stroke-width="0.35"/>
<circle cx="415.98" cy="72.81" r="1.2" fill="url(#ball)" stroke="#a01818" stroke-width="0.35"/>
<circle cx="415.29" cy="68.99" r="1.2" fill="url(#ball)" stroke="#a01818" stroke-width="0.35"/>
<circle cx="416.78" cy="70.54" r="1.2" fill="url(#ball)" stroke="#a01818" stroke-width="0.35"/>
<circle cx="418.27" cy="72.09" r="1.2" fill="url(#ball)" stroke="#a01818" stroke-width="0.35"/>
<circle cx="417.58" cy="68.27" r="1.2" fill="url(#ball)" stroke="#a01818" stroke-width="0.35"/>
<circle cx="419.07" cy="69.82" r="1.2" fill="url(#ball)" stroke="#a01818" stroke-width="0.35"/>
<circle cx="420.57" cy="71.37" r="1.2" fill="url(#ball)" stroke="#a01818" stroke-width="0.35"/>
<circle cx="417.63" cy="65.23" r="1.2" fill="url(#ball)" stroke="#a01818" stroke-width="0.35"/>
<circle cx="419.13" cy="66.78" r="1.2" fill="url(#ball)" stroke="#a01818" stroke-width="0.35"/>
<circle cx="420.62" cy="68.33" r="1.2" fill="url(#ball)" stroke="#a01818" stroke-width="0.35"/>
<circle cx="419.93" cy="64.51" r="1.2" fill="url(#ball)" stroke="#a01818" stroke-width="0.35"/>
<circle cx="421.42" cy="66.06" r="1.2" fill="url(#ball)" stroke="#a01818" stroke-width="0.35"/>
<circle cx="422.91" cy="67.61" r="1.2" fill="url(#ball)" stroke="#a01818" stroke-width="0.35"/>
<circle cx="422.22" cy="63.79" r="1.2" fill="url(#ball)" stroke="#a01818" stroke-width="0.35"/>
<circle cx="423.71" cy="65.34" r="1.2" fill="url(#ball)" stroke="#a01818" stroke-width="0.35"/>
<circle cx="436.5" cy="63.4" r="5" fill="#fff" fill-opacity="0.0" stroke="#111" stroke-width="1.15"/>
<path d="M432.96,59.86 L440.04,66.94 M432.96,66.94 L440.04,59.86" stroke="#111" stroke-width="1.1"/>
<rect x="445.8" y="59" width="1.4" height="12.9" fill="#222"/>
<line x1="453.62" y1="69.03" x2="460.98" y2="62.77" stroke="#2a7bd0" stroke-width="2"/>
<path d="M463.3,60.8 L462.02,65.17 L458.79,61.36 Z" fill="#2a7bd0"/>
<path d="M451.3,71 L455.81,70.44 L452.58,66.63 Z" fill="#2a7bd0"/>
<path d="M465,59.2 Q467.6,62.85 468.4,65.45 Q467.6,68.05 465,71.7" fill="none" stroke="#1a1a1a" stroke-width="1.15"/>
<line x1="419.4" y1="76.9" x2="419.4" y2="80.5" stroke="#f046f0" stroke-width="1.7"/>
<path d="M416.9,79.5 L421.9,79.5 L419.4,83.8 Z" fill="#f046f0"/>
<line x1="383.5" y1="22.4" x2="499.7" y2="22.4" stroke="#8a8a8a" stroke-width="1.1"/>
<line x1="383.5" y1="90.5" x2="500.5" y2="90.5" stroke="#8c8c8c" stroke-width="1.6"/>
<line x1="499.7" y1="22.4" x2="499.7" y2="90.5" stroke="#8c8c8c" stroke-width="1.5"/>
<line x1="383.5" y1="21.9" x2="383.5" y2="91.3" stroke="#303030" stroke-width="1.0"/>
<line x1="397.95" y1="22.4" x2="397.95" y2="24" stroke="#444" stroke-width="0.8"/>
<line x1="397.95" y1="90.5" x2="397.95" y2="88.9" stroke="#444" stroke-width="0.8"/>
<line x1="412.4" y1="22.4" x2="412.4" y2="24" stroke="#444" stroke-width="0.8"/>
<line x1="412.4" y1="90.5" x2="412.4" y2="88.9" stroke="#444" stroke-width="0.8"/>
<line x1="426.85" y1="22.4" x2="426.85" y2="24" stroke="#444" stroke-width="0.8"/>
<line x1="426.85" y1="90.5" x2="426.85" y2="88.9" stroke="#444" stroke-width="0.8"/>
<line x1="441.3" y1="22.4" x2="441.3" y2="24" stroke="#444" stroke-width="0.8"/>
<line x1="441.3" y1="90.5" x2="441.3" y2="88.9" stroke="#444" stroke-width="0.8"/>
<line x1="455.75" y1="22.4" x2="455.75" y2="24" stroke="#444" stroke-width="0.8"/>
<line x1="455.75" y1="90.5" x2="455.75" y2="88.9" stroke="#444" stroke-width="0.8"/>
<line x1="470.2" y1="22.4" x2="470.2" y2="24" stroke="#444" stroke-width="0.8"/>
<line x1="470.2" y1="90.5" x2="470.2" y2="88.9" stroke="#444" stroke-width="0.8"/>
<line x1="484.65" y1="22.4" x2="484.65" y2="24" stroke="#444" stroke-width="0.8"/>
<line x1="484.65" y1="90.5" x2="484.65" y2="88.9" stroke="#444" stroke-width="0.8"/>
<line x1="499.7" y1="83.69" x2="498.1" y2="83.69" stroke="#444" stroke-width="0.8"/>
<line x1="499.7" y1="76.88" x2="498.1" y2="76.88" stroke="#444" stroke-width="0.8"/>
<line x1="499.7" y1="70.07" x2="498.1" y2="70.07" stroke="#444" stroke-width="0.8"/>
<line x1="499.7" y1="63.26" x2="498.1" y2="63.26" stroke="#444" stroke-width="0.8"/>
<line x1="499.7" y1="56.45" x2="498.1" y2="56.45" stroke="#444" stroke-width="0.8"/>
<line x1="499.7" y1="49.64" x2="498.1" y2="49.64" stroke="#444" stroke-width="0.8"/>
<line x1="499.7" y1="42.83" x2="498.1" y2="42.83" stroke="#444" stroke-width="0.8"/>
<line x1="499.7" y1="36.02" x2="498.1" y2="36.02" stroke="#444" stroke-width="0.8"/>
<line x1="499.7" y1="29.21" x2="498.1" y2="29.21" stroke="#444" stroke-width="0.8"/>
<rect x="456.9" y="0.5" width="58.9" height="28.8" fill="#fff" stroke="#3c4a8c" stroke-width="1.1"/>
<g filter="url(#speck)">
<ellipse cx="486.6" cy="14.8" rx="26.6" ry="11.65" fill="#1818d8"/>
<ellipse cx="486.62" cy="14.8" rx="25.27" ry="10.72" fill="#0a28f4"/>
<ellipse cx="486.66" cy="14.8" rx="23.41" ry="9.67" fill="#0050ff"/>
<ellipse cx="486.7" cy="14.8" rx="21.28" ry="8.5" fill="#0094ff"/>
<ellipse cx="486.74" cy="14.8" rx="19.15" ry="7.34" fill="#20d4f0"/>
<ellipse cx="486.78" cy="14.8" rx="17.02" ry="6.29" fill="#68f4b0"/>
<ellipse cx="486.82" cy="14.8" rx="14.9" ry="5.36" fill="#c4f850"/>
<ellipse cx="486.87" cy="14.8" rx="12.5" ry="4.31" fill="#f4ec20"/>
<ellipse cx="486.92" cy="14.8" rx="9.58" ry="3.03" fill="#ffcc00"/>
<ellipse cx="486.98" cy="14.8" rx="6.65" ry="1.86" fill="#ffa000"/>
<ellipse cx="487.04" cy="14.8" rx="3.46" ry="0.82" fill="#f86800"/>
</g>
<g opacity="0.13" clip-path="url(#clipc)">
<rect x="461.5" y="3.15" width="1.3" height="23.3" fill="#0030ff"/>
<rect x="464.4" y="3.15" width="1.3" height="23.3" fill="#0030ff"/>
<rect x="467.3" y="3.15" width="1.3" height="23.3" fill="#0030ff"/>
<rect x="470.2" y="3.15" width="1.3" height="23.3" fill="#0030ff"/>
<rect x="473.1" y="3.15" width="1.3" height="23.3" fill="#0030ff"/>
<rect x="476" y="3.15" width="1.3" height="23.3" fill="#0030ff"/>
<rect x="478.9" y="3.15" width="1.3" height="23.3" fill="#0030ff"/>
<rect x="481.8" y="3.15" width="1.3" height="23.3" fill="#0030ff"/>
<rect x="484.7" y="3.15" width="1.3" height="23.3" fill="#0030ff"/>
<rect x="487.6" y="3.15" width="1.3" height="23.3" fill="#0030ff"/>
<rect x="490.5" y="3.15" width="1.3" height="23.3" fill="#0030ff"/>
<rect x="493.4" y="3.15" width="1.3" height="23.3" fill="#0030ff"/>
<rect x="496.3" y="3.15" width="1.3" height="23.3" fill="#0030ff"/>
<rect x="499.2" y="3.15" width="1.3" height="23.3" fill="#0030ff"/>
<rect x="502.1" y="3.15" width="1.3" height="23.3" fill="#0030ff"/>
<rect x="505" y="3.15" width="1.3" height="23.3" fill="#0030ff"/>
<rect x="507.9" y="3.15" width="1.3" height="23.3" fill="#0030ff"/>
<rect x="510.8" y="3.15" width="1.3" height="23.3" fill="#0030ff"/>
</g>
<text x="380.6" y="26.8" font-size="10" fill="#333" text-anchor="end" font-family='"Liberation Sans", sans-serif' stroke="#333" stroke-width="0.2">1.0</text>
<text x="381.3" y="58.3" font-size="10" fill="#333" text-anchor="end" font-family='"Liberation Sans", sans-serif' stroke="#333" stroke-width="0.2">0.5</text>
<text x="370.5" y="93.8" font-size="10" fill="#333" text-anchor="start" font-family='"Liberation Sans", sans-serif' stroke="#333" stroke-width="0.2">0</text>
<text x="440.9" y="106.5" font-size="11.8" fill="#404040" text-anchor="middle" font-family='"Liberation Sans", sans-serif' textLength="90" lengthAdjust="spacingAndGlyphs">Detector Position</text>
<rect x="573" y="75.4" width="96" height="11.2" rx="5.6" fill="#f6b4c0" opacity="0.9" filter="url(#blur2)"/>
<rect x="576" y="79.2" width="15.5" height="5.2" fill="#dd9532"/>
<rect x="602.8" y="79.2" width="37.1" height="5.2" fill="#dd9532"/>
<rect x="652.3" y="79.2" width="12.7" height="5.2" fill="#dd9532"/>
<path d="M555.5,90.5 L555.75,90 L556,89.52 L556.25,88.9 L556.5,88.02 L556.75,86.78 L557,85.12 L557.25,83.03 L557.5,80.56 L557.75,77.8 L558,74.91 L558.25,72.07 L558.5,69.45 L558.75,67.27 L559,66.68 L559.25,66.96 L559.5,67.79 L559.75,69.09 L560,70.73 L560.25,72.54 L560.5,74.36 L560.75,76.03 L561,77.37 L561.25,78.26 L561.5,78.58 L561.75,78.35 L562,77.71 L562.25,76.42 L562.5,74.52 L562.75,72.11 L563,69.33 L563.25,66.34 L563.5,63.34 L563.75,60.52 L564,58.08 L564.25,56.19 L564.5,54.97 L564.75,54.68 L565,55.26 L565.25,56.58 L565.5,58.52 L565.75,60.93 L566,63.62 L566.25,66.38 L566.5,68.99 L566.75,71.24 L567,72.95 L567.25,73.97 L567.5,74.2 L567.75,73.51 L568,72.02 L568.25,69.83 L568.5,67.06 L568.75,63.91 L569,60.58 L569.25,57.29 L569.5,54.27 L569.75,51.72 L570,49.79 L570.25,48.62 L570.5,48.19 L570.75,48.5 L571,49.61 L571.25,51.41 L571.5,53.75 L571.75,56.46 L572,59.29 L572.25,62.03 L572.5,64.44 L572.75,66.32 L573,67.49 L573.25,67.84 L573.5,67.34 L573.75,65.96 L574,63.75 L574.25,60.83 L574.5,57.39 L574.75,53.64 L575,49.83 L575.25,46.22 L575.5,43.05 L575.75,40.54 L576,38.86 L576.25,38.12 L576.5,38.34 L576.75,39.52 L577,41.58 L577.25,44.36 L577.5,47.63 L577.75,51.14 L578,54.61 L578.25,57.75 L578.5,60.3 L578.75,62.04 L579,62.8 L579.25,62.48 L579.5,61.05 L579.75,58.59 L580,55.21 L580.25,51.14 L580.5,46.63 L580.75,41.98 L581,37.52 L581.25,33.53 L581.5,30.32 L581.75,28.09 L582,27 L582.25,27.41 L582.5,28.99 L582.75,31.62 L583,35.08 L583.25,39.1 L583.5,43.39 L583.75,47.6 L584,51.43 L584.25,54.58 L584.5,56.79 L584.75,57.9 L585,57.85 L585.25,56.64 L585.5,54.3 L585.75,50.96 L586,46.87 L586.25,42.31 L586.5,37.6 L586.75,33.06 L587,29.02 L587.25,25.77 L587.5,23.53 L587.75,22.46 L588,22.79 L588.25,24.36 L588.5,27.01 L588.75,30.54 L589,34.67 L589.25,39.11 L589.5,43.52 L589.75,47.58 L590,50.98 L590.25,53.49 L590.5,54.91 L590.75,55.16 L591,54.27 L591.25,52.24 L591.5,49.22 L591.75,45.45 L592,41.18 L592.25,36.73 L592.5,32.43 L592.75,28.57 L593,25.45 L593.25,23.27 L593.5,22.2 L593.75,22.31 L594,23.59 L594.25,25.93 L594.5,29.16 L594.75,33.03 L595,37.26 L595.25,41.54 L595.5,45.55 L595.75,49 L596,51.64 L596.25,53.28 L596.5,53.8 L596.75,53.15 L597,51.4 L597.25,48.68 L597.5,45.17 L597.75,41.15 L598,36.9 L598.25,32.72 L598.5,28.93 L598.75,25.8 L599,23.53 L599.25,22.3 L599.5,22.2 L599.75,23.22 L600,25.28 L600.25,28.21 L600.5,31.8 L600.75,35.78 L601,39.85 L601.25,43.72 L601.5,47.11 L601.75,49.76 L602,51.5 L602.25,52.19 L602.5,51.87 L602.75,50.51 L603,48.18 L603.25,45.06 L603.5,41.38 L603.75,37.41 L604,33.44 L604.25,29.76 L604.5,26.63 L604.75,24.3 L605,22.93 L605.25,22.65 L605.5,23.53 L605.75,25.43 L606,28.22 L606.25,31.68 L606.5,35.57 L606.75,39.6 L607,43.49 L607.25,46.97 L607.5,49.78 L607.75,51.74 L608,52.71 L608.25,52.63 L608.5,51.53 L608.75,49.5 L609,46.69 L609.25,43.32 L609.5,39.64 L609.75,35.93 L610,32.46 L610.25,29.49 L610.5,27.25 L610.75,25.88 L611,25.5 L611.25,26.15 L611.5,27.77 L611.75,30.22 L612,33.34 L612.25,36.9 L612.5,40.64 L612.75,44.29 L613,47.6 L613.25,50.34 L613.5,52.32 L613.75,53.41 L614,53.53 L614.25,52.68 L614.5,50.97 L614.75,48.52 L615,45.54 L615.25,42.24 L615.5,38.88 L615.75,35.7 L616,32.95 L616.25,30.82 L616.5,29.47 L616.75,28.99 L617,29.38 L617.25,30.64 L617.5,32.68 L617.75,35.34 L618,38.43 L618.25,41.73 L618.5,44.99 L618.75,48 L619,50.53 L619.25,52.41 L619.5,53.52 L619.75,53.79 L620,53.23 L620.25,51.88 L620.5,49.83 L620.75,47.26 L621,44.36 L621.25,41.34 L621.5,38.44 L621.75,35.87 L622,33.82 L622.25,32.43 L622.5,31.82 L622.75,32.01 L623,33 L623.25,34.72 L623.5,37.04 L623.75,39.8 L624,42.8 L624.25,45.83 L624.5,48.66 L624.75,51.1 L625,52.98 L625.25,54.17 L625.5,54.6 L625.75,54.21 L626,53.07 L626.25,51.29 L626.5,48.99 L626.75,46.35 L627,43.58 L627.25,40.88 L627.5,38.45 L627.75,36.47 L628,35.07 L628.25,34.37 L628.5,34.37 L628.75,35.05 L629,36.42 L629.25,38.37 L629.5,40.76 L629.75,43.42 L630,46.15 L630.25,48.76 L630.5,51.05 L630.75,52.87 L631,54.07 L631.25,54.59 L631.5,54.37 L631.75,53.43 L632,51.86 L632.25,49.76 L632.5,47.29 L632.75,44.64 L633,41.99 L633.25,39.53 L633.5,37.46 L633.75,35.92 L634,35.01 L634.25,34.82 L634.5,35.37 L634.75,36.59 L635,38.4 L635.25,40.67 L635.5,43.23 L635.75,45.89 L636,48.46 L636.25,50.76 L636.5,52.62 L636.75,53.91 L637,54.54 L637.25,54.48 L637.5,53.72 L637.75,52.34 L638,50.42 L638.25,48.12 L638.5,45.61 L638.75,43.07 L639,40.69 L639.25,38.64 L639.5,37.07 L639.75,36.1 L640,35.8 L640.25,36.4 L640.5,37.64 L640.75,39.42 L641,41.6 L641.25,44.03 L641.5,46.53 L641.75,48.93 L642,51.07 L642.25,52.8 L642.5,54.03 L642.75,54.69 L643,54.77 L643.25,54.29 L643.5,53.3 L643.75,51.91 L644,50.23 L644.25,48.41 L644.5,46.59 L644.75,44.92 L645,43.53 L645.25,42.51 L645.5,41.94 L645.75,41.86 L646,42.25 L646.25,43.08 L646.5,44.31 L646.75,45.83 L647,47.54 L647.25,49.31 L647.5,51.03 L647.75,52.57 L648,53.85 L648.25,54.79 L648.5,55.35 L648.75,55.53 L649,55.44 L649.25,54.99 L649.5,54.22 L649.75,53.21 L650,52.06 L650.25,50.86 L650.5,49.71 L650.75,48.72 L651,47.97 L651.25,47.53 L651.5,47.43 L651.75,47.71 L652,48.36 L652.25,49.33 L652.5,50.56 L652.75,51.99 L653,53.52 L653.25,55.05 L653.5,56.48 L653.75,57.74 L654,58.74 L654.25,59.44 L654.5,59.8 L654.75,59.85 L655,59.58 L655.25,59.01 L655.5,58.21 L655.75,57.25 L656,56.23 L656.25,55.23 L656.5,54.35 L656.75,53.66 L657,53.23 L657.25,53.11 L657.5,53.34 L657.75,53.93 L658,54.82 L658.25,55.97 L658.5,57.29 L658.75,58.72 L659,60.16 L659.25,61.54 L659.5,62.76 L659.75,63.77 L660,64.51 L660.25,64.95 L660.5,65.16 L660.75,65.09 L661,64.74 L661.25,64.17 L661.5,63.42 L661.75,62.59 L662,61.74 L662.25,60.98 L662.5,60.37 L662.75,59.98 L663,59.87 L663.25,60.16 L663.5,61.15 L663.75,62.37 L664,63.77 L664.25,65.25 L664.5,66.72 L664.75,68.1 L665,69.35 L665.25,70.41 L665.5,71.26 L665.75,71.9 L666,72.36 L666.25,72.85 L666.5,73.35 L666.75,73.76 L667,74.1 L667.25,74.42 L667.5,74.74 L667.75,75.1 L668,75.52 L668.25,76.02 L668.5,76.6 L668.75,77.26 L669,78 L669.25,78.71 L669.5,79.48 L669.75,80.29 L670,81.12 L670.25,81.98 L670.5,82.83 L670.75,83.66 L671,84.46 L671.25,85.23 L671.5,85.94 L671.75,86.62 L672,87.2 L672.25,87.69 L672.5,88.16 L672.75,88.64 L673,89.14 L673.25,89.68 L673.5,90.26" fill="none" stroke="#3d7fc4" stroke-width="1.15" stroke-linejoin="round"/>
<path d="M584,67.67 L584.3,67.52 L584.6,67.35 L584.9,67.16 L585.2,66.96 L585.5,66.73 L585.8,66.48 L586.1,66.21 L586.4,65.91 L586.7,65.59 L587,65.24 L587.3,64.87 L587.6,64.48 L587.9,64.05 L588.2,63.61 L588.5,63.14 L588.8,62.65 L589.1,62.13 L589.4,61.6 L589.7,61.05 L590,60.49 L590.3,59.92 L590.6,59.34 L590.9,58.75 L591.2,58.17 L591.5,57.59 L591.8,57.02 L592.1,56.46 L592.4,55.92 L592.7,55.4 L593,54.91 L593.3,54.44 L593.6,54.02 L593.9,53.63 L594.2,53.29 L594.5,52.99 L594.8,52.75 L595.1,52.55 L595.4,52.41 L595.7,52.33 L596,52.3 L596.3,52.33 L596.6,52.41 L596.9,52.55 L597.2,52.75 L597.5,52.99 L597.8,53.29 L598.1,53.63 L598.4,54.02 L598.7,54.44 L599,54.91 L599.3,55.4 L599.6,55.92 L599.9,56.46 L600.2,57.02 L600.5,57.59 L600.8,58.17 L601.1,58.75 L601.4,59.34 L601.7,59.92 L602,60.49 L602.3,61.05 L602.6,61.6 L602.9,62.13 L603.2,62.65 L603.5,63.14 L603.8,63.61 L604.1,64.05 L604.4,64.48 L604.7,64.87 L605,65.24 L605.3,65.59 L605.6,65.91 L605.9,66.21 L606.2,66.48 L606.5,66.73 L606.8,66.96 L607.1,67.16 L607.4,67.35 L607.7,67.52 L608,67.67 Z" fill="url(#gauss)"/>
<path d="M578.5,69.5 L578.85,69.42 L579.2,69.35 L579.55,69.28 L579.9,69.2 L580.25,69.13 L580.6,69.07 L580.95,69 L581.3,68.93 L581.65,68.87 L582,68.8 L582.35,68.74 L582.7,68.67 L583.05,68.61 L583.4,68.55 L583.75,68.48 L584.1,68.42 L584.45,68.35 L584.8,68.29 L585.15,68.22 L585.5,68.15 L585.85,68.08 L586.2,68.01 L586.55,67.93 L586.9,67.85 L587.25,67.77 L587.6,67.69 L587.95,67.6 L588.3,67.51 L588.65,67.41 L589,67.31 L589.35,67.2 L589.7,67.1 L590.05,66.99 L590.4,66.87 L590.75,66.76 L591.1,66.64 L591.45,66.53 L591.8,66.42 L592.15,66.3 L592.5,66.2 L592.85,66.1 L593.2,66 L593.55,65.91 L593.9,65.83 L594.25,65.76 L594.6,65.71 L594.95,65.66 L595.3,65.63 L595.65,65.61 L596,65.6 L596.35,65.61 L596.7,65.63 L597.05,65.66 L597.4,65.71 L597.75,65.76 L598.1,65.83 L598.45,65.91 L598.8,66 L599.15,66.1 L599.5,66.2 L599.85,66.3 L600.2,66.42 L600.55,66.53 L600.9,66.64 L601.25,66.76 L601.6,66.87 L601.95,66.99 L602.3,67.1 L602.65,67.2 L603,67.31 L603.35,67.41 L603.7,67.51 L604.05,67.6 L604.4,67.69 L604.75,67.77 L605.1,67.85 L605.45,67.93 L605.8,68.01 L606.15,68.08 L606.5,68.15 L606.85,68.22 L607.2,68.29 L607.55,68.35 L607.9,68.42 L608.25,68.48 L608.6,68.55 L608.95,68.61 L609.3,68.67 L609.65,68.74 L610,68.8 L610.35,68.87 L610.7,68.93 L611.05,69 L611.4,69.07 L611.75,69.13 L612.1,69.2 L612.45,69.28 L612.8,69.35 L613.15,69.42 L613.5,69.5 L613.5,69.7 L613.15,69.83 L612.8,69.93 L612.45,70.03 L612.1,70.13 L611.75,70.22 L611.4,70.3 L611.05,70.39 L610.7,70.47 L610.35,70.54 L610,70.62 L609.65,70.69 L609.3,70.76 L608.95,70.83 L608.6,70.89 L608.25,70.95 L607.9,71.02 L607.55,71.07 L607.2,71.13 L606.85,71.19 L606.5,71.24 L606.15,71.29 L605.8,71.34 L605.45,71.39 L605.1,71.43 L604.75,71.48 L604.4,71.52 L604.05,71.56 L603.7,71.6 L603.35,71.63 L603,71.67 L602.65,71.7 L602.3,71.73 L601.95,71.76 L601.6,71.79 L601.25,71.81 L600.9,71.84 L600.55,71.86 L600.2,71.88 L599.85,71.9 L599.5,71.92 L599.15,71.93 L598.8,71.95 L598.45,71.96 L598.1,71.97 L597.75,71.98 L597.4,71.99 L597.05,71.99 L596.7,72 L596.35,72 L596,72 L595.65,72 L595.3,72 L594.95,71.99 L594.6,71.99 L594.25,71.98 L593.9,71.97 L593.55,71.96 L593.2,71.95 L592.85,71.93 L592.5,71.92 L592.15,71.9 L591.8,71.88 L591.45,71.86 L591.1,71.84 L590.75,71.81 L590.4,71.79 L590.05,71.76 L589.7,71.73 L589.35,71.7 L589,71.67 L588.65,71.63 L588.3,71.6 L587.95,71.56 L587.6,71.52 L587.25,71.48 L586.9,71.43 L586.55,71.39 L586.2,71.34 L585.85,71.29 L585.5,71.24 L585.15,71.19 L584.8,71.13 L584.45,71.07 L584.1,71.02 L583.75,70.95 L583.4,70.89 L583.05,70.83 L582.7,70.76 L582.35,70.69 L582,70.62 L581.65,70.54 L581.3,70.47 L580.95,70.39 L580.6,70.3 L580.25,70.22 L579.9,70.13 L579.55,70.03 L579.2,69.93 L578.85,69.83 L578.5,69.7 Z" fill="#2f8cc6"/>
<circle cx="590.79" cy="67.36" r="1.2" fill="url(#ball)" stroke="#a01818" stroke-width="0.35"/>
<circle cx="592.28" cy="68.91" r="1.2" fill="url(#ball)" stroke="#a01818" stroke-width="0.35"/>
<circle cx="591.59" cy="65.09" r="1.2" fill="url(#ball)" stroke="#a01818" stroke-width="0.35"/>
<circle cx="593.08" cy="66.64" r="1.2" fill="url(#ball)" stroke="#a01818" stroke-width="0.35"/>
<circle cx="594.57" cy="68.19" r="1.2" fill="url(#ball)" stroke="#a01818" stroke-width="0.35"/>
<circle cx="593.88" cy="64.37" r="1.2" fill="url(#ball)" stroke="#a01818" stroke-width="0.35"/>
<circle cx="595.37" cy="65.92" r="1.2" fill="url(#ball)" stroke="#a01818" stroke-width="0.35"/>
<circle cx="596.87" cy="67.47" r="1.2" fill="url(#ball)" stroke="#a01818" stroke-width="0.35"/>
<circle cx="593.93" cy="61.33" r="1.2" fill="url(#ball)" stroke="#a01818" stroke-width="0.35"/>
<circle cx="595.43" cy="62.88" r="1.2" fill="url(#ball)" stroke="#a01818" stroke-width="0.35"/>
<circle cx="596.92" cy="64.43" r="1.2" fill="url(#ball)" stroke="#a01818" stroke-width="0.35"/>
<circle cx="596.23" cy="60.61" r="1.2" fill="url(#ball)" stroke="#a01818" stroke-width="0.35"/>
<circle cx="597.72" cy="62.16" r="1.2" fill="url(#ball)" stroke="#a01818" stroke-width="0.35"/>
<circle cx="599.21" cy="63.71" r="1.2" fill="url(#ball)" stroke="#a01818" stroke-width="0.35"/>
<circle cx="598.52" cy="59.89" r="1.2" fill="url(#ball)" stroke="#a01818" stroke-width="0.35"/>
<circle cx="600.01" cy="61.44" r="1.2" fill="url(#ball)" stroke="#a01818" stroke-width="0.35"/>
<circle cx="614.7" cy="59.6" r="5" fill="#fff" fill-opacity="0.0" stroke="#111" stroke-width="1.15"/>
<path d="M611.16,56.06 L618.24,63.14 M611.16,63.14 L618.24,56.06" stroke="#111" stroke-width="1.1"/>
<rect x="624.3" y="57.2" width="1.4" height="12.2" fill="#222"/>
<line x1="629.14" y1="63.2" x2="640.16" y2="63.2" stroke="#2a7bd0" stroke-width="2"/>
<path d="M643.2,63.2 L639.4,65.7 L639.4,60.7 Z" fill="#2a7bd0"/>
<path d="M626.1,63.2 L629.9,65.7 L629.9,60.7 Z" fill="#2a7bd0"/>
<path d="M644,57.4 Q646.6,60.7 647.4,63.3 Q646.6,65.9 644,69.2" fill="none" stroke="#1a1a1a" stroke-width="1.15"/>
<line x1="596" y1="73.5" x2="596" y2="77.8" stroke="#f046f0" stroke-width="1.7"/>
<path d="M593.5,76.8 L598.5,76.8 L596,81.1 Z" fill="#f046f0"/>
<line x1="555.5" y1="22.4" x2="673.6" y2="22.4" stroke="#8a8a8a" stroke-width="1.1"/>
<line x1="555.5" y1="90.5" x2="674.4" y2="90.5" stroke="#8c8c8c" stroke-width="1.6"/>
<line x1="673.6" y1="22.4" x2="673.6" y2="90.5" stroke="#8c8c8c" stroke-width="1.5"/>
<line x1="555.5" y1="21.9" x2="555.5" y2="91.3" stroke="#303030" stroke-width="1.0"/>
<line x1="569.05" y1="22.4" x2="569.05" y2="24" stroke="#444" stroke-width="0.8"/>
<line x1="569.05" y1="90.5" x2="569.05" y2="88.9" stroke="#444" stroke-width="0.8"/>
<line x1="582.6" y1="22.4" x2="582.6" y2="24" stroke="#444" stroke-width="0.8"/>
<line x1="582.6" y1="90.5" x2="582.6" y2="88.9" stroke="#444" stroke-width="0.8"/>
<line x1="596.15" y1="22.4" x2="596.15" y2="24" stroke="#444" stroke-width="0.8"/>
<line x1="596.15" y1="90.5" x2="596.15" y2="88.9" stroke="#444" stroke-width="0.8"/>
<line x1="609.7" y1="22.4" x2="609.7" y2="24" stroke="#444" stroke-width="0.8"/>
<line x1="609.7" y1="90.5" x2="609.7" y2="88.9" stroke="#444" stroke-width="0.8"/>
<line x1="623.25" y1="22.4" x2="623.25" y2="24" stroke="#444" stroke-width="0.8"/>
<line x1="623.25" y1="90.5" x2="623.25" y2="88.9" stroke="#444" stroke-width="0.8"/>
<line x1="636.8" y1="22.4" x2="636.8" y2="24" stroke="#444" stroke-width="0.8"/>
<line x1="636.8" y1="90.5" x2="636.8" y2="88.9" stroke="#444" stroke-width="0.8"/>
<line x1="650.35" y1="22.4" x2="650.35" y2="24" stroke="#444" stroke-width="0.8"/>
<line x1="650.35" y1="90.5" x2="650.35" y2="88.9" stroke="#444" stroke-width="0.8"/>
<line x1="663.9" y1="22.4" x2="663.9" y2="24" stroke="#444" stroke-width="0.8"/>
<line x1="663.9" y1="90.5" x2="663.9" y2="88.9" stroke="#444" stroke-width="0.8"/>
<line x1="673.6" y1="83.69" x2="672" y2="83.69" stroke="#444" stroke-width="0.8"/>
<line x1="673.6" y1="76.88" x2="672" y2="76.88" stroke="#444" stroke-width="0.8"/>
<line x1="673.6" y1="70.07" x2="672" y2="70.07" stroke="#444" stroke-width="0.8"/>
<line x1="673.6" y1="63.26" x2="672" y2="63.26" stroke="#444" stroke-width="0.8"/>
<line x1="673.6" y1="56.45" x2="672" y2="56.45" stroke="#444" stroke-width="0.8"/>
<line x1="673.6" y1="49.64" x2="672" y2="49.64" stroke="#444" stroke-width="0.8"/>
<line x1="673.6" y1="42.83" x2="672" y2="42.83" stroke="#444" stroke-width="0.8"/>
<line x1="673.6" y1="36.02" x2="672" y2="36.02" stroke="#444" stroke-width="0.8"/>
<line x1="673.6" y1="29.21" x2="672" y2="29.21" stroke="#444" stroke-width="0.8"/>
<rect x="626" y="1" width="58.5" height="27.9" fill="#fff" stroke="#3c4a8c" stroke-width="1.1"/>
<g filter="url(#speck2)">
<rect x="628.5" y="5.4" width="53.6" height="18" rx="4" ry="6" fill="#1838ee"/>
<path d="M629.52,3.76 Q632.4,14.4 629.52,25.04 Q626.63,14.4 629.52,3.76 Z" fill="url(#dstripe)"/>
<path d="M632.55,2.83 Q635.43,14.4 632.55,25.97 Q629.67,14.4 632.55,2.83 Z" fill="url(#dstripe)"/>
<path d="M635.58,2.35 Q638.47,14.4 635.58,26.45 Q632.7,14.4 635.58,2.35 Z" fill="url(#dstripe)"/>
<path d="M638.62,2.13 Q641.5,14.4 638.62,26.67 Q635.74,14.4 638.62,2.13 Z" fill="url(#dstripe)"/>
<path d="M641.65,2.04 Q644.53,14.4 641.65,26.76 Q638.77,14.4 641.65,2.04 Z" fill="url(#dstripe)"/>
<path d="M644.68,2.01 Q647.57,14.4 644.68,26.79 Q641.8,14.4 644.68,2.01 Z" fill="url(#dstripe)"/>
<path d="M647.72,2 Q650.6,14.4 647.72,26.8 Q644.84,14.4 647.72,2 Z" fill="url(#dstripe)"/>
<path d="M650.75,2 Q653.63,14.4 650.75,26.8 Q647.87,14.4 650.75,2 Z" fill="url(#dstripe)"/>
<path d="M653.78,2 Q656.66,14.4 653.78,26.8 Q650.9,14.4 653.78,2 Z" fill="url(#dstripe)"/>
<path d="M656.82,2 Q659.7,14.4 656.82,26.8 Q653.94,14.4 656.82,2 Z" fill="url(#dstripe)"/>
<path d="M659.85,2 Q662.73,14.4 659.85,26.8 Q656.97,14.4 659.85,2 Z" fill="url(#dstripe)"/>
<path d="M662.88,2 Q665.76,14.4 662.88,26.8 Q660,14.4 662.88,2 Z" fill="url(#dstripe)"/>
<path d="M665.92,2.01 Q668.8,14.4 665.92,26.79 Q663.03,14.4 665.92,2.01 Z" fill="url(#dstripe)"/>
<path d="M668.95,2.04 Q671.83,14.4 668.95,26.76 Q666.07,14.4 668.95,2.04 Z" fill="url(#dstripe)"/>
<path d="M671.98,2.13 Q674.87,14.4 671.98,26.67 Q669.1,14.4 671.98,2.13 Z" fill="url(#dstripe)"/>
<path d="M675.02,2.35 Q677.9,14.4 675.02,26.45 Q672.13,14.4 675.02,2.35 Z" fill="url(#dstripe)"/>
<path d="M678.05,2.83 Q680.93,14.4 678.05,25.97 Q675.17,14.4 678.05,2.83 Z" fill="url(#dstripe)"/>
<path d="M681.08,3.76 Q683.97,14.4 681.08,25.04 Q678.2,14.4 681.08,3.76 Z" fill="url(#dstripe)"/>
<ellipse cx="651" cy="14.4" rx="19.66" ry="6.94" fill="url(#dcore)"/>
<g opacity="0.45">
<rect x="627.6" y="5" width="0.8" height="18.8" fill="#1030ff"/>
<rect x="630.63" y="5" width="0.8" height="18.8" fill="#1030ff"/>
<rect x="633.67" y="5" width="0.8" height="18.8" fill="#1030ff"/>
<rect x="636.7" y="5" width="0.8" height="18.8" fill="#1030ff"/>
<rect x="639.73" y="5" width="0.8" height="18.8" fill="#1030ff"/>
<rect x="642.77" y="5" width="0.8" height="18.8" fill="#1030ff"/>
<rect x="645.8" y="5" width="0.8" height="18.8" fill="#1030ff"/>
<rect x="648.83" y="5" width="0.8" height="18.8" fill="#1030ff"/>
<rect x="651.87" y="5" width="0.8" height="18.8" fill="#1030ff"/>
<rect x="654.9" y="5" width="0.8" height="18.8" fill="#1030ff"/>
<rect x="657.93" y="5" width="0.8" height="18.8" fill="#1030ff"/>
<rect x="660.97" y="5" width="0.8" height="18.8" fill="#1030ff"/>
<rect x="664" y="5" width="0.8" height="18.8" fill="#1030ff"/>
<rect x="667.03" y="5" width="0.8" height="18.8" fill="#1030ff"/>
<rect x="670.07" y="5" width="0.8" height="18.8" fill="#1030ff"/>
<rect x="673.1" y="5" width="0.8" height="18.8" fill="#1030ff"/>
<rect x="676.13" y="5" width="0.8" height="18.8" fill="#1030ff"/>
<rect x="679.17" y="5" width="0.8" height="18.8" fill="#1030ff"/>
<rect x="682.2" y="5" width="0.8" height="18.8" fill="#1030ff"/>
</g>
</g>
<text x="552.6" y="26.8" font-size="10" fill="#333" text-anchor="end" font-family='"Liberation Sans", sans-serif' stroke="#333" stroke-width="0.2">1.0</text>
<text x="553.3" y="58.3" font-size="10" fill="#333" text-anchor="end" font-family='"Liberation Sans", sans-serif' stroke="#333" stroke-width="0.2">0.5</text>
<text x="542.5" y="93.8" font-size="10" fill="#333" text-anchor="start" font-family='"Liberation Sans", sans-serif' stroke="#333" stroke-width="0.2">0</text>
<text x="609.6" y="106.5" font-size="11.8" fill="#404040" text-anchor="middle" font-family='"Liberation Sans", sans-serif' textLength="90" lengthAdjust="spacingAndGlyphs">Detector Position</text>
<text transform="translate(20.9,54.4) rotate(-90)" font-size="11.4" fill="#404040" text-anchor="middle" font-family='"Liberation Sans", sans-serif' textLength="45.7" lengthAdjust="spacingAndGlyphs">Intensity</text>
<rect x="43.85" y="165.1" width="7.9" height="48.2" fill="#b3d7ee"/>
<rect x="54.92" y="175.9" width="7.9" height="37.4" fill="#b3d7ee"/>
<rect x="43.7" y="170.6" width="8.2" height="42.7" rx="0.8" fill="#a9d1ea" stroke="#4a8fd0" stroke-width="1.3"/>
<rect x="44.65" y="170.5" width="6.3" height="1.6" fill="#151515"/>
<rect x="54.77" y="178.9" width="8.2" height="34.4" rx="0.8" fill="#a9d1ea" stroke="#4a8fd0" stroke-width="1.3"/>
<rect x="55.72" y="178.8" width="6.3" height="1.6" fill="#151515"/>
<rect x="65.84" y="183.4" width="8.2" height="29.9" rx="0.8" fill="#a9d1ea" stroke="#4a8fd0" stroke-width="1.3"/>
<rect x="66.79" y="183.3" width="6.3" height="1.6" fill="#151515"/>
<rect x="76.91" y="189.7" width="8.2" height="23.6" rx="0.8" fill="#a9d1ea" stroke="#4a8fd0" stroke-width="1.3"/>
<rect x="77.86" y="189.6" width="6.3" height="1.6" fill="#151515"/>
<rect x="87.98" y="195.2" width="8.2" height="18.1" rx="0.8" fill="#a9d1ea" stroke="#4a8fd0" stroke-width="1.3"/>
<rect x="88.93" y="195.1" width="6.3" height="1.6" fill="#151515"/>
<rect x="99.05" y="199.5" width="8.2" height="13.8" rx="0.8" fill="#a9d1ea" stroke="#4a8fd0" stroke-width="1.3"/>
<rect x="100" y="199.4" width="6.3" height="1.6" fill="#151515"/>
<rect x="110.12" y="204.1" width="8.2" height="9.2" rx="0.8" fill="#a9d1ea" stroke="#4a8fd0" stroke-width="1.3"/>
<rect x="111.07" y="204" width="6.3" height="1.6" fill="#151515"/>
<rect x="121.19" y="206" width="8.2" height="7.3" rx="0.8" fill="#a9d1ea" stroke="#4a8fd0" stroke-width="1.3"/>
<rect x="122.14" y="205.9" width="6.3" height="1.6" fill="#151515"/>
<rect x="132.26" y="208" width="8.2" height="5.3" rx="0.8" fill="#a9d1ea" stroke="#4a8fd0" stroke-width="1.3"/>
<rect x="133.21" y="207.9" width="6.3" height="1.6" fill="#151515"/>
<rect x="143.33" y="209.3" width="8.2" height="4" rx="0.8" fill="#a9d1ea" stroke="#4a8fd0" stroke-width="1.3"/>
<rect x="144.28" y="209.2" width="6.3" height="1.6" fill="#151515"/>
<rect x="154.4" y="210.2" width="8.2" height="3.1" rx="0.8" fill="#a9d1ea" stroke="#4a8fd0" stroke-width="1.3"/>
<rect x="155.35" y="210.1" width="6.3" height="1.6" fill="#151515"/>
<line x1="42" y1="139.6" x2="164.1" y2="139.6" stroke="#2a2a2a" stroke-width="1.0"/>
<line x1="37.8" y1="213.3" x2="164.1" y2="213.3" stroke="#333" stroke-width="1.4"/>
<line x1="42" y1="139.1" x2="42" y2="213.9" stroke="#8a8a8a" stroke-width="1.6"/>
<line x1="164.1" y1="139.1" x2="164.1" y2="213.9" stroke="#8a8a8a" stroke-width="1.6"/>
<line x1="47.8" y1="139.6" x2="47.8" y2="142.6" stroke="#333" stroke-width="0.9"/>
<line x1="47.8" y1="213.3" x2="47.8" y2="217.7" stroke="#222" stroke-width="1.0"/>
<text transform="translate(47.5,231.3) scale(1.1,1)" font-size="12.2" fill="#222" text-anchor="middle" font-family='"Liberation Sans", sans-serif'>0</text>
<line x1="58.87" y1="139.6" x2="58.87" y2="142.6" stroke="#333" stroke-width="0.9"/>
<line x1="58.87" y1="213.3" x2="58.87" y2="217.7" stroke="#222" stroke-width="1.0"/>
<text transform="translate(58.57,231.3) scale(1.1,1)" font-size="12.2" fill="#222" text-anchor="middle" font-family='"Liberation Sans", sans-serif'>1</text>
<line x1="69.94" y1="139.6" x2="69.94" y2="142.6" stroke="#333" stroke-width="0.9"/>
<line x1="69.94" y1="213.3" x2="69.94" y2="217.7" stroke="#222" stroke-width="1.0"/>
<text transform="translate(69.64,231.3) scale(1.1,1)" font-size="12.2" fill="#222" text-anchor="middle" font-family='"Liberation Sans", sans-serif'>2</text>
<line x1="81.01" y1="139.6" x2="81.01" y2="142.6" stroke="#333" stroke-width="0.9"/>
<line x1="81.01" y1="213.3" x2="81.01" y2="217.7" stroke="#222" stroke-width="1.0"/>
<text transform="translate(80.71,231.3) scale(1.1,1)" font-size="12.2" fill="#222" text-anchor="middle" font-family='"Liberation Sans", sans-serif'>3</text>
<line x1="92.08" y1="139.6" x2="92.08" y2="142.6" stroke="#333" stroke-width="0.9"/>
<line x1="92.08" y1="213.3" x2="92.08" y2="217.7" stroke="#222" stroke-width="1.0"/>
<text transform="translate(91.78,231.3) scale(1.1,1)" font-size="12.2" fill="#222" text-anchor="middle" font-family='"Liberation Sans", sans-serif'>4</text>
<line x1="103.15" y1="139.6" x2="103.15" y2="142.6" stroke="#333" stroke-width="0.9"/>
<line x1="103.15" y1="213.3" x2="103.15" y2="217.7" stroke="#222" stroke-width="1.0"/>
<text transform="translate(102.85,231.3) scale(1.1,1)" font-size="12.2" fill="#222" text-anchor="middle" font-family='"Liberation Sans", sans-serif'>5</text>
<line x1="114.22" y1="139.6" x2="114.22" y2="142.6" stroke="#333" stroke-width="0.9"/>
<line x1="114.22" y1="213.3" x2="114.22" y2="217.7" stroke="#222" stroke-width="1.0"/>
<text transform="translate(113.92,231.3) scale(1.1,1)" font-size="12.2" fill="#222" text-anchor="middle" font-family='"Liberation Sans", sans-serif'>6</text>
<line x1="125.29" y1="139.6" x2="125.29" y2="142.6" stroke="#333" stroke-width="0.9"/>
<line x1="125.29" y1="213.3" x2="125.29" y2="217.7" stroke="#222" stroke-width="1.0"/>
<text transform="translate(124.99,231.3) scale(1.1,1)" font-size="12.2" fill="#222" text-anchor="middle" font-family='"Liberation Sans", sans-serif'>7</text>
<line x1="136.36" y1="139.6" x2="136.36" y2="142.6" stroke="#333" stroke-width="0.9"/>
<line x1="136.36" y1="213.3" x2="136.36" y2="217.7" stroke="#222" stroke-width="1.0"/>
<text transform="translate(136.06,231.3) scale(1.1,1)" font-size="12.2" fill="#222" text-anchor="middle" font-family='"Liberation Sans", sans-serif'>8</text>
<line x1="147.43" y1="139.6" x2="147.43" y2="142.6" stroke="#333" stroke-width="0.9"/>
<line x1="147.43" y1="213.3" x2="147.43" y2="217.7" stroke="#222" stroke-width="1.0"/>
<text transform="translate(147.13,231.3) scale(1.1,1)" font-size="12.2" fill="#222" text-anchor="middle" font-family='"Liberation Sans", sans-serif'>9</text>
<line x1="158.5" y1="139.6" x2="158.5" y2="142.6" stroke="#333" stroke-width="0.9"/>
<line x1="158.5" y1="213.3" x2="158.5" y2="217.7" stroke="#222" stroke-width="1.0"/>
<text transform="translate(158.7,231.3) scale(1.1,1)" font-size="12.2" fill="#222" text-anchor="middle" font-family='"Liberation Sans", sans-serif'>10</text>
<line x1="37.8" y1="213.3" x2="42" y2="213.3" stroke="#333" stroke-width="0.9"/>
<line x1="39.6" y1="203" x2="42" y2="203" stroke="#333" stroke-width="0.9"/>
<line x1="37.8" y1="192.7" x2="42" y2="192.7" stroke="#333" stroke-width="0.9"/>
<line x1="161.1" y1="192.7" x2="164.1" y2="192.7" stroke="#333" stroke-width="0.9"/>
<line x1="39.6" y1="182.4" x2="42" y2="182.4" stroke="#333" stroke-width="0.9"/>
<line x1="37.8" y1="172.1" x2="42" y2="172.1" stroke="#333" stroke-width="0.9"/>
<line x1="161.1" y1="172.1" x2="164.1" y2="172.1" stroke="#333" stroke-width="0.9"/>
<line x1="39.6" y1="161.8" x2="42" y2="161.8" stroke="#333" stroke-width="0.9"/>
<line x1="37.8" y1="151.5" x2="42" y2="151.5" stroke="#333" stroke-width="0.9"/>
<line x1="161.1" y1="151.5" x2="164.1" y2="151.5" stroke="#333" stroke-width="0.9"/>
<line x1="39.6" y1="141.2" x2="42" y2="141.2" stroke="#333" stroke-width="0.9"/>
<text x="34.5" y="155.8" font-size="12.3" fill="#222" text-anchor="end" font-family='"Liberation Sans", sans-serif' textLength="18.3" lengthAdjust="spacingAndGlyphs">0.3</text>
<text x="34.5" y="176.4" font-size="12.3" fill="#222" text-anchor="end" font-family='"Liberation Sans", sans-serif' textLength="18.3" lengthAdjust="spacingAndGlyphs">0.2</text>
<text x="34.5" y="197" font-size="12.3" fill="#222" text-anchor="end" font-family='"Liberation Sans", sans-serif' textLength="18.3" lengthAdjust="spacingAndGlyphs">0.1</text>
<text transform="translate(34.4,217.8) scale(1.12,1)" font-size="12.3" fill="#222" text-anchor="end" font-family='"Liberation Sans", sans-serif'>0</text>
<rect x="101.2" y="151.1" width="12.4" height="7.6" fill="#2f74b7"/>
<rect x="101.2" y="165.2" width="12.4" height="7.0" fill="#a9d0e9"/>
<text x="117" y="159.3" font-size="12.6" fill="#1a1a1a" text-anchor="start" font-family='"Liberation Sans", sans-serif' textLength="21.3" lengthAdjust="spacingAndGlyphs">Exp</text>
<text x="117" y="173.4" font-size="12.6" fill="#1a1a1a" text-anchor="start" font-family='"Liberation Sans", sans-serif' textLength="39.4" lengthAdjust="spacingAndGlyphs">Theory</text>
<text x="45.8" y="132.3" font-size="14" fill="#1a1a1a" text-anchor="start" font-family='"Liberation Serif", serif' font-style="italic">g</text>
<text x="53.8" y="127.8" font-size="10.2" fill="#1a1a1a" text-anchor="start" font-family='"Liberation Serif", serif' textLength="13.4" lengthAdjust="spacing" stroke="#1a1a1a" stroke-width="0.2">(2)</text>
<text x="53.8" y="137.3" font-size="8.8" fill="#1a1a1a" text-anchor="start" font-family='"Liberation Serif", serif' stroke="#1a1a1a" stroke-width="0.3">0°</text>
<rect x="71.8" y="128.2" width="7.8" height="1.0" fill="#222"/>
<rect x="71.8" y="130.9" width="7.8" height="1.0" fill="#222"/>
<text x="81.8" y="132.7" font-size="12.2" fill="#1a1a1a" text-anchor="start" font-family='"Liberation Sans", sans-serif' textLength="71.5" lengthAdjust="spacingAndGlyphs">1.959±0.002</text>
<text x="98.8" y="245.1" font-size="11.8" fill="#555" text-anchor="middle" font-family='"Liberation Sans", sans-serif' textLength="83" lengthAdjust="spacingAndGlyphs">Photon Number</text>
<rect x="215.65" y="189.7" width="8.3" height="23.6" rx="0.8" fill="#a9d1ea" stroke="#4a8fd0" stroke-width="1.3"/>
<rect x="216.6" y="189.6" width="6.4" height="1.6" fill="#151515"/>
<rect x="226.68" y="180.2" width="8.3" height="33.1" rx="0.8" fill="#a9d1ea" stroke="#4a8fd0" stroke-width="1.3"/>
<rect x="227.63" y="180.1" width="6.4" height="1.6" fill="#151515"/>
<rect x="237.71" y="180.8" width="8.3" height="32.5" rx="0.8" fill="#a9d1ea" stroke="#4a8fd0" stroke-width="1.3"/>
<rect x="238.66" y="180.7" width="6.4" height="1.6" fill="#151515"/>
<rect x="248.74" y="185.5" width="8.3" height="27.8" rx="0.8" fill="#a9d1ea" stroke="#4a8fd0" stroke-width="1.3"/>
<rect x="249.69" y="185.4" width="6.4" height="1.6" fill="#151515"/>
<rect x="259.77" y="191.2" width="8.3" height="22.1" rx="0.8" fill="#a9d1ea" stroke="#4a8fd0" stroke-width="1.3"/>
<rect x="260.72" y="191.1" width="6.4" height="1.6" fill="#151515"/>
<rect x="270.8" y="196.1" width="8.3" height="17.2" rx="0.8" fill="#a9d1ea" stroke="#4a8fd0" stroke-width="1.3"/>
<rect x="271.75" y="196" width="6.4" height="1.6" fill="#151515"/>
<rect x="281.83" y="199.5" width="8.3" height="13.8" rx="0.8" fill="#a9d1ea" stroke="#4a8fd0" stroke-width="1.3"/>
<rect x="282.78" y="199.4" width="6.4" height="1.6" fill="#151515"/>
<rect x="292.86" y="202.8" width="8.3" height="10.5" rx="0.8" fill="#a9d1ea" stroke="#4a8fd0" stroke-width="1.3"/>
<rect x="293.81" y="202.7" width="6.4" height="1.6" fill="#151515"/>
<rect x="303.89" y="205.7" width="8.3" height="7.6" rx="0.8" fill="#a9d1ea" stroke="#4a8fd0" stroke-width="1.3"/>
<rect x="304.84" y="205.6" width="6.4" height="1.6" fill="#151515"/>
<rect x="314.92" y="207.2" width="8.3" height="6.1" rx="0.8" fill="#a9d1ea" stroke="#4a8fd0" stroke-width="1.3"/>
<rect x="315.87" y="207.1" width="6.4" height="1.6" fill="#151515"/>
<rect x="325.95" y="208.9" width="8.3" height="4.4" rx="0.8" fill="#a9d1ea" stroke="#4a8fd0" stroke-width="1.3"/>
<rect x="326.9" y="208.8" width="6.4" height="1.6" fill="#151515"/>
<line x1="214.8" y1="139.6" x2="335.4" y2="139.6" stroke="#2a2a2a" stroke-width="1.0"/>
<line x1="210.6" y1="213.3" x2="335.4" y2="213.3" stroke="#333" stroke-width="1.4"/>
<line x1="214.8" y1="139.1" x2="214.8" y2="213.9" stroke="#8a8a8a" stroke-width="1.6"/>
<line x1="335.4" y1="139.1" x2="335.4" y2="213.9" stroke="#8a8a8a" stroke-width="1.6"/>
<line x1="219.8" y1="139.6" x2="219.8" y2="142.6" stroke="#333" stroke-width="0.9"/>
<line x1="219.8" y1="213.3" x2="219.8" y2="217.7" stroke="#222" stroke-width="1.0"/>
<text transform="translate(219.5,231.3) scale(1.1,1)" font-size="12.2" fill="#222" text-anchor="middle" font-family='"Liberation Sans", sans-serif'>0</text>
<line x1="230.83" y1="139.6" x2="230.83" y2="142.6" stroke="#333" stroke-width="0.9"/>
<line x1="230.83" y1="213.3" x2="230.83" y2="217.7" stroke="#222" stroke-width="1.0"/>
<text transform="translate(230.53,231.3) scale(1.1,1)" font-size="12.2" fill="#222" text-anchor="middle" font-family='"Liberation Sans", sans-serif'>1</text>
<line x1="241.86" y1="139.6" x2="241.86" y2="142.6" stroke="#333" stroke-width="0.9"/>
<line x1="241.86" y1="213.3" x2="241.86" y2="217.7" stroke="#222" stroke-width="1.0"/>
<text transform="translate(241.56,231.3) scale(1.1,1)" font-size="12.2" fill="#222" text-anchor="middle" font-family='"Liberation Sans", sans-serif'>2</text>
<line x1="252.89" y1="139.6" x2="252.89" y2="142.6" stroke="#333" stroke-width="0.9"/>
<line x1="252.89" y1="213.3" x2="252.89" y2="217.7" stroke="#222" stroke-width="1.0"/>
<text transform="translate(252.59,231.3) scale(1.1,1)" font-size="12.2" fill="#222" text-anchor="middle" font-family='"Liberation Sans", sans-serif'>3</text>
<line x1="263.92" y1="139.6" x2="263.92" y2="142.6" stroke="#333" stroke-width="0.9"/>
<line x1="263.92" y1="213.3" x2="263.92" y2="217.7" stroke="#222" stroke-width="1.0"/>
<text transform="translate(263.62,231.3) scale(1.1,1)" font-size="12.2" fill="#222" text-anchor="middle" font-family='"Liberation Sans", sans-serif'>4</text>
<line x1="274.95" y1="139.6" x2="274.95" y2="142.6" stroke="#333" stroke-width="0.9"/>
<line x1="274.95" y1="213.3" x2="274.95" y2="217.7" stroke="#222" stroke-width="1.0"/>
<text transform="translate(274.65,231.3) scale(1.1,1)" font-size="12.2" fill="#222" text-anchor="middle" font-family='"Liberation Sans", sans-serif'>5</text>
<line x1="285.98" y1="139.6" x2="285.98" y2="142.6" stroke="#333" stroke-width="0.9"/>
<line x1="285.98" y1="213.3" x2="285.98" y2="217.7" stroke="#222" stroke-width="1.0"/>
<text transform="translate(285.68,231.3) scale(1.1,1)" font-size="12.2" fill="#222" text-anchor="middle" font-family='"Liberation Sans", sans-serif'>6</text>
<line x1="297.01" y1="139.6" x2="297.01" y2="142.6" stroke="#333" stroke-width="0.9"/>
<line x1="297.01" y1="213.3" x2="297.01" y2="217.7" stroke="#222" stroke-width="1.0"/>
<text transform="translate(296.71,231.3) scale(1.1,1)" font-size="12.2" fill="#222" text-anchor="middle" font-family='"Liberation Sans", sans-serif'>7</text>
<line x1="308.04" y1="139.6" x2="308.04" y2="142.6" stroke="#333" stroke-width="0.9"/>
<line x1="308.04" y1="213.3" x2="308.04" y2="217.7" stroke="#222" stroke-width="1.0"/>
<text transform="translate(307.74,231.3) scale(1.1,1)" font-size="12.2" fill="#222" text-anchor="middle" font-family='"Liberation Sans", sans-serif'>8</text>
<line x1="319.07" y1="139.6" x2="319.07" y2="142.6" stroke="#333" stroke-width="0.9"/>
<line x1="319.07" y1="213.3" x2="319.07" y2="217.7" stroke="#222" stroke-width="1.0"/>
<text transform="translate(318.77,231.3) scale(1.1,1)" font-size="12.2" fill="#222" text-anchor="middle" font-family='"Liberation Sans", sans-serif'>9</text>
<line x1="330.1" y1="139.6" x2="330.1" y2="142.6" stroke="#333" stroke-width="0.9"/>
<line x1="330.1" y1="213.3" x2="330.1" y2="217.7" stroke="#222" stroke-width="1.0"/>
<text transform="translate(330.3,231.3) scale(1.1,1)" font-size="12.2" fill="#222" text-anchor="middle" font-family='"Liberation Sans", sans-serif'>10</text>
<line x1="210.6" y1="213.3" x2="214.8" y2="213.3" stroke="#333" stroke-width="0.9"/>
<line x1="212.4" y1="203" x2="214.8" y2="203" stroke="#333" stroke-width="0.9"/>
<line x1="210.6" y1="192.7" x2="214.8" y2="192.7" stroke="#333" stroke-width="0.9"/>
<line x1="332.4" y1="192.7" x2="335.4" y2="192.7" stroke="#333" stroke-width="0.9"/>
<line x1="212.4" y1="182.4" x2="214.8" y2="182.4" stroke="#333" stroke-width="0.9"/>
<line x1="210.6" y1="172.1" x2="214.8" y2="172.1" stroke="#333" stroke-width="0.9"/>
<line x1="332.4" y1="172.1" x2="335.4" y2="172.1" stroke="#333" stroke-width="0.9"/>
<line x1="212.4" y1="161.8" x2="214.8" y2="161.8" stroke="#333" stroke-width="0.9"/>
<line x1="210.6" y1="151.5" x2="214.8" y2="151.5" stroke="#333" stroke-width="0.9"/>
<line x1="332.4" y1="151.5" x2="335.4" y2="151.5" stroke="#333" stroke-width="0.9"/>
<line x1="212.4" y1="141.2" x2="214.8" y2="141.2" stroke="#333" stroke-width="0.9"/>
<text x="207.3" y="155.8" font-size="12.3" fill="#222" text-anchor="end" font-family='"Liberation Sans", sans-serif' textLength="18.3" lengthAdjust="spacingAndGlyphs">0.3</text>
<text x="207.3" y="176.4" font-size="12.3" fill="#222" text-anchor="end" font-family='"Liberation Sans", sans-serif' textLength="18.3" lengthAdjust="spacingAndGlyphs">0.2</text>
<text x="207.3" y="197" font-size="12.3" fill="#222" text-anchor="end" font-family='"Liberation Sans", sans-serif' textLength="18.3" lengthAdjust="spacingAndGlyphs">0.1</text>
<text transform="translate(207.2,217.8) scale(1.12,1)" font-size="12.3" fill="#222" text-anchor="end" font-family='"Liberation Sans", sans-serif'>0</text>
<rect x="270.7" y="151.1" width="12.4" height="7.6" fill="#2f74b7"/>
<rect x="270.7" y="165.2" width="12.4" height="7.0" fill="#a9d0e9"/>
<text x="285.8" y="159.3" font-size="12.6" fill="#1a1a1a" text-anchor="start" font-family='"Liberation Sans", sans-serif' textLength="21.3" lengthAdjust="spacingAndGlyphs">Exp</text>
<text x="285.8" y="173.4" font-size="12.6" fill="#1a1a1a" text-anchor="start" font-family='"Liberation Sans", sans-serif' textLength="39.4" lengthAdjust="spacingAndGlyphs">Theory</text>
<text x="216.9" y="132.3" font-size="14" fill="#1a1a1a" text-anchor="start" font-family='"Liberation Serif", serif' font-style="italic">g</text>
<text x="225.2" y="127.8" font-size="10.2" fill="#1a1a1a" text-anchor="start" font-family='"Liberation Serif", serif' textLength="13.4" lengthAdjust="spacing" stroke="#1a1a1a" stroke-width="0.2">(2)</text>
<text x="224.2" y="137.3" font-size="8.8" fill="#1a1a1a" text-anchor="start" font-family='"Liberation Serif", serif' stroke="#1a1a1a" stroke-width="0.3">30°</text>
<rect x="244.2" y="128.2" width="7.8" height="1.0" fill="#222"/>
<rect x="244.2" y="130.9" width="7.8" height="1.0" fill="#222"/>
<text x="256.6" y="132.7" font-size="12.2" fill="#1a1a1a" text-anchor="start" font-family='"Liberation Sans", sans-serif' textLength="72.6" lengthAdjust="spacingAndGlyphs">1.518±0.002</text>
<text x="271.65" y="245.1" font-size="11.8" fill="#555" text-anchor="middle" font-family='"Liberation Sans", sans-serif' textLength="83" lengthAdjust="spacingAndGlyphs">Photon Number</text>
<rect x="385.15" y="179.2" width="8.2" height="34.1" rx="0.8" fill="#a9d1ea" stroke="#4a8fd0" stroke-width="1.3"/>
<rect x="386.1" y="179.1" width="6.3" height="1.6" fill="#151515"/>
<rect x="396.29" y="171.4" width="8.2" height="41.9" rx="0.8" fill="#a9d1ea" stroke="#4a8fd0" stroke-width="1.3"/>
<rect x="397.24" y="171.3" width="6.3" height="1.6" fill="#151515"/>
<rect x="407.43" y="177.4" width="8.2" height="35.9" rx="0.8" fill="#a9d1ea" stroke="#4a8fd0" stroke-width="1.3"/>
<rect x="408.38" y="177.3" width="6.3" height="1.6" fill="#151515"/>
<rect x="418.57" y="185.7" width="8.2" height="27.6" rx="0.8" fill="#a9d1ea" stroke="#4a8fd0" stroke-width="1.3"/>
<rect x="419.52" y="185.6" width="6.3" height="1.6" fill="#151515"/>
<rect x="429.71" y="193.2" width="8.2" height="20.1" rx="0.8" fill="#a9d1ea" stroke="#4a8fd0" stroke-width="1.3"/>
<rect x="430.66" y="193.1" width="6.3" height="1.6" fill="#151515"/>
<rect x="440.85" y="198.8" width="8.2" height="14.5" rx="0.8" fill="#a9d1ea" stroke="#4a8fd0" stroke-width="1.3"/>
<rect x="441.8" y="198.7" width="6.3" height="1.6" fill="#151515"/>
<rect x="451.99" y="202.1" width="8.2" height="11.2" rx="0.8" fill="#a9d1ea" stroke="#4a8fd0" stroke-width="1.3"/>
<rect x="452.94" y="202" width="6.3" height="1.6" fill="#151515"/>
<rect x="463.13" y="205.4" width="8.2" height="7.9" rx="0.8" fill="#a9d1ea" stroke="#4a8fd0" stroke-width="1.3"/>
<rect x="464.08" y="205.3" width="6.3" height="1.6" fill="#151515"/>
<rect x="474.27" y="207.5" width="8.2" height="5.8" rx="0.8" fill="#a9d1ea" stroke="#4a8fd0" stroke-width="1.3"/>
<rect x="475.22" y="207.4" width="6.3" height="1.6" fill="#151515"/>
<rect x="485.41" y="209.5" width="8.2" height="3.8" rx="0.8" fill="#a9d1ea" stroke="#4a8fd0" stroke-width="1.3"/>
<rect x="486.36" y="209.4" width="6.3" height="1.6" fill="#151515"/>
<rect x="496.55" y="210.4" width="8.2" height="2.9" rx="0.8" fill="#a9d1ea" stroke="#4a8fd0" stroke-width="1.3"/>
<rect x="497.5" y="210.3" width="6.3" height="1.6" fill="#151515"/>
<line x1="383.7" y1="139.6" x2="506.4" y2="139.6" stroke="#2a2a2a" stroke-width="1.0"/>
<line x1="379.5" y1="213.3" x2="506.4" y2="213.3" stroke="#333" stroke-width="1.4"/>
<line x1="383.7" y1="139.1" x2="383.7" y2="213.9" stroke="#8a8a8a" stroke-width="1.6"/>
<line x1="506.4" y1="139.1" x2="506.4" y2="213.9" stroke="#8a8a8a" stroke-width="1.6"/>
<line x1="389.25" y1="139.6" x2="389.25" y2="142.6" stroke="#333" stroke-width="0.9"/>
<line x1="389.25" y1="213.3" x2="389.25" y2="217.7" stroke="#222" stroke-width="1.0"/>
<text transform="translate(388.95,231.3) scale(1.1,1)" font-size="12.2" fill="#222" text-anchor="middle" font-family='"Liberation Sans", sans-serif'>0</text>
<line x1="400.39" y1="139.6" x2="400.39" y2="142.6" stroke="#333" stroke-width="0.9"/>
<line x1="400.39" y1="213.3" x2="400.39" y2="217.7" stroke="#222" stroke-width="1.0"/>
<text transform="translate(400.09,231.3) scale(1.1,1)" font-size="12.2" fill="#222" text-anchor="middle" font-family='"Liberation Sans", sans-serif'>1</text>
<line x1="411.53" y1="139.6" x2="411.53" y2="142.6" stroke="#333" stroke-width="0.9"/>
<line x1="411.53" y1="213.3" x2="411.53" y2="217.7" stroke="#222" stroke-width="1.0"/>
<text transform="translate(411.23,231.3) scale(1.1,1)" font-size="12.2" fill="#222" text-anchor="middle" font-family='"Liberation Sans", sans-serif'>2</text>
<line x1="422.67" y1="139.6" x2="422.67" y2="142.6" stroke="#333" stroke-width="0.9"/>
<line x1="422.67" y1="213.3" x2="422.67" y2="217.7" stroke="#222" stroke-width="1.0"/>
<text transform="translate(422.37,231.3) scale(1.1,1)" font-size="12.2" fill="#222" text-anchor="middle" font-family='"Liberation Sans", sans-serif'>3</text>
<line x1="433.81" y1="139.6" x2="433.81" y2="142.6" stroke="#333" stroke-width="0.9"/>
<line x1="433.81" y1="213.3" x2="433.81" y2="217.7" stroke="#222" stroke-width="1.0"/>
<text transform="translate(433.51,231.3) scale(1.1,1)" font-size="12.2" fill="#222" text-anchor="middle" font-family='"Liberation Sans", sans-serif'>4</text>
<line x1="444.95" y1="139.6" x2="444.95" y2="142.6" stroke="#333" stroke-width="0.9"/>
<line x1="444.95" y1="213.3" x2="444.95" y2="217.7" stroke="#222" stroke-width="1.0"/>
<text transform="translate(444.65,231.3) scale(1.1,1)" font-size="12.2" fill="#222" text-anchor="middle" font-family='"Liberation Sans", sans-serif'>5</text>
<line x1="456.09" y1="139.6" x2="456.09" y2="142.6" stroke="#333" stroke-width="0.9"/>
<line x1="456.09" y1="213.3" x2="456.09" y2="217.7" stroke="#222" stroke-width="1.0"/>
<text transform="translate(455.79,231.3) scale(1.1,1)" font-size="12.2" fill="#222" text-anchor="middle" font-family='"Liberation Sans", sans-serif'>6</text>
<line x1="467.23" y1="139.6" x2="467.23" y2="142.6" stroke="#333" stroke-width="0.9"/>
<line x1="467.23" y1="213.3" x2="467.23" y2="217.7" stroke="#222" stroke-width="1.0"/>
<text transform="translate(466.93,231.3) scale(1.1,1)" font-size="12.2" fill="#222" text-anchor="middle" font-family='"Liberation Sans", sans-serif'>7</text>
<line x1="478.37" y1="139.6" x2="478.37" y2="142.6" stroke="#333" stroke-width="0.9"/>
<line x1="478.37" y1="213.3" x2="478.37" y2="217.7" stroke="#222" stroke-width="1.0"/>
<text transform="translate(478.07,231.3) scale(1.1,1)" font-size="12.2" fill="#222" text-anchor="middle" font-family='"Liberation Sans", sans-serif'>8</text>
<line x1="489.51" y1="139.6" x2="489.51" y2="142.6" stroke="#333" stroke-width="0.9"/>
<line x1="489.51" y1="213.3" x2="489.51" y2="217.7" stroke="#222" stroke-width="1.0"/>
<text transform="translate(489.21,231.3) scale(1.1,1)" font-size="12.2" fill="#222" text-anchor="middle" font-family='"Liberation Sans", sans-serif'>9</text>
<line x1="500.65" y1="139.6" x2="500.65" y2="142.6" stroke="#333" stroke-width="0.9"/>
<line x1="500.65" y1="213.3" x2="500.65" y2="217.7" stroke="#222" stroke-width="1.0"/>
<text transform="translate(500.85,231.3) scale(1.1,1)" font-size="12.2" fill="#222" text-anchor="middle" font-family='"Liberation Sans", sans-serif'>10</text>
<line x1="379.5" y1="213.3" x2="383.7" y2="213.3" stroke="#333" stroke-width="0.9"/>
<line x1="381.3" y1="203" x2="383.7" y2="203" stroke="#333" stroke-width="0.9"/>
<line x1="379.5" y1="192.7" x2="383.7" y2="192.7" stroke="#333" stroke-width="0.9"/>
<line x1="503.4" y1="192.7" x2="506.4" y2="192.7" stroke="#333" stroke-width="0.9"/>
<line x1="381.3" y1="182.4" x2="383.7" y2="182.4" stroke="#333" stroke-width="0.9"/>
<line x1="379.5" y1="172.1" x2="383.7" y2="172.1" stroke="#333" stroke-width="0.9"/>
<line x1="503.4" y1="172.1" x2="506.4" y2="172.1" stroke="#333" stroke-width="0.9"/>
<line x1="381.3" y1="161.8" x2="383.7" y2="161.8" stroke="#333" stroke-width="0.9"/>
<line x1="379.5" y1="151.5" x2="383.7" y2="151.5" stroke="#333" stroke-width="0.9"/>
<line x1="503.4" y1="151.5" x2="506.4" y2="151.5" stroke="#333" stroke-width="0.9"/>
<line x1="381.3" y1="141.2" x2="383.7" y2="141.2" stroke="#333" stroke-width="0.9"/>
<text x="376.2" y="155.8" font-size="12.3" fill="#222" text-anchor="end" font-family='"Liberation Sans", sans-serif' textLength="18.3" lengthAdjust="spacingAndGlyphs">0.3</text>
<text x="376.2" y="176.4" font-size="12.3" fill="#222" text-anchor="end" font-family='"Liberation Sans", sans-serif' textLength="18.3" lengthAdjust="spacingAndGlyphs">0.2</text>
<text x="376.2" y="197" font-size="12.3" fill="#222" text-anchor="end" font-family='"Liberation Sans", sans-serif' textLength="18.3" lengthAdjust="spacingAndGlyphs">0.1</text>
<text transform="translate(376.1,217.8) scale(1.12,1)" font-size="12.3" fill="#222" text-anchor="end" font-family='"Liberation Sans", sans-serif'>0</text>
<rect x="441.8" y="151.1" width="12.4" height="7.6" fill="#2f74b7"/>
<rect x="441.8" y="165.2" width="12.4" height="7.0" fill="#a9d0e9"/>
<text x="457.4" y="159.3" font-size="12.6" fill="#1a1a1a" text-anchor="start" font-family='"Liberation Sans", sans-serif' textLength="21.3" lengthAdjust="spacingAndGlyphs">Exp</text>
<text x="457.4" y="173.4" font-size="12.6" fill="#1a1a1a" text-anchor="start" font-family='"Liberation Sans", sans-serif' textLength="39.4" lengthAdjust="spacingAndGlyphs">Theory</text>
<text x="386.9" y="132.3" font-size="14" fill="#1a1a1a" text-anchor="start" font-family='"Liberation Serif", serif' font-style="italic">g</text>
<text x="395.2" y="127.8" font-size="10.2" fill="#1a1a1a" text-anchor="start" font-family='"Liberation Serif", serif' textLength="13.4" lengthAdjust="spacing" stroke="#1a1a1a" stroke-width="0.2">(2)</text>
<text x="394.2" y="137.3" font-size="8.8" fill="#1a1a1a" text-anchor="start" font-family='"Liberation Serif", serif' stroke="#1a1a1a" stroke-width="0.3">45°</text>
<rect x="414.2" y="128.2" width="7.8" height="1.0" fill="#222"/>
<rect x="414.2" y="130.9" width="7.8" height="1.0" fill="#222"/>
<text x="426.6" y="132.7" font-size="12.2" fill="#1a1a1a" text-anchor="start" font-family='"Liberation Sans", sans-serif' textLength="72.6" lengthAdjust="spacingAndGlyphs">1.561±0.002</text>
<text x="444.05" y="245.1" font-size="11.8" fill="#555" text-anchor="middle" font-family='"Liberation Sans", sans-serif' textLength="83" lengthAdjust="spacingAndGlyphs">Photon Number</text>
<rect x="557.55" y="169" width="7.8" height="44.3" fill="#b3d7ee"/>
<rect x="568.54" y="178.1" width="7.8" height="35.2" fill="#b3d7ee"/>
<rect x="557.4" y="174" width="8.1" height="39.3" rx="0.8" fill="#a9d1ea" stroke="#4a8fd0" stroke-width="1.3"/>
<rect x="558.35" y="173.9" width="6.2" height="1.6" fill="#151515"/>
<rect x="568.39" y="181.4" width="8.1" height="31.9" rx="0.8" fill="#a9d1ea" stroke="#4a8fd0" stroke-width="1.3"/>
<rect x="569.34" y="181.3" width="6.2" height="1.6" fill="#151515"/>
<rect x="579.38" y="185.2" width="8.1" height="28.1" rx="0.8" fill="#a9d1ea" stroke="#4a8fd0" stroke-width="1.3"/>
<rect x="580.33" y="185.1" width="6.2" height="1.6" fill="#151515"/>
<rect x="590.37" y="190.2" width="8.1" height="23.1" rx="0.8" fill="#a9d1ea" stroke="#4a8fd0" stroke-width="1.3"/>
<rect x="591.32" y="190.1" width="6.2" height="1.6" fill="#151515"/>
<rect x="601.36" y="194.4" width="8.1" height="18.9" rx="0.8" fill="#a9d1ea" stroke="#4a8fd0" stroke-width="1.3"/>
<rect x="602.31" y="194.3" width="6.2" height="1.6" fill="#151515"/>
<rect x="612.35" y="198.2" width="8.1" height="15.1" rx="0.8" fill="#a9d1ea" stroke="#4a8fd0" stroke-width="1.3"/>
<rect x="613.3" y="198.1" width="6.2" height="1.6" fill="#151515"/>
<rect x="623.34" y="202.5" width="8.1" height="10.8" rx="0.8" fill="#a9d1ea" stroke="#4a8fd0" stroke-width="1.3"/>
<rect x="624.29" y="202.4" width="6.2" height="1.6" fill="#151515"/>
<rect x="634.33" y="204.7" width="8.1" height="8.6" rx="0.8" fill="#a9d1ea" stroke="#4a8fd0" stroke-width="1.3"/>
<rect x="635.28" y="204.6" width="6.2" height="1.6" fill="#151515"/>
<rect x="645.32" y="206.4" width="8.1" height="6.9" rx="0.8" fill="#a9d1ea" stroke="#4a8fd0" stroke-width="1.3"/>
<rect x="646.27" y="206.3" width="6.2" height="1.6" fill="#151515"/>
<rect x="656.31" y="207.4" width="8.1" height="5.9" rx="0.8" fill="#a9d1ea" stroke="#4a8fd0" stroke-width="1.3"/>
<rect x="657.26" y="207.3" width="6.2" height="1.6" fill="#151515"/>
<rect x="667.3" y="208.5" width="8.1" height="4.8" rx="0.8" fill="#a9d1ea" stroke="#4a8fd0" stroke-width="1.3"/>
<rect x="668.25" y="208.4" width="6.2" height="1.6" fill="#151515"/>
<line x1="556.6" y1="139.6" x2="676.5" y2="139.6" stroke="#2a2a2a" stroke-width="1.0"/>
<line x1="552.4" y1="213.3" x2="676.5" y2="213.3" stroke="#333" stroke-width="1.4"/>
<line x1="556.6" y1="139.1" x2="556.6" y2="213.9" stroke="#8a8a8a" stroke-width="1.6"/>
<line x1="676.5" y1="139.1" x2="676.5" y2="213.9" stroke="#8a8a8a" stroke-width="1.6"/>
<line x1="561.45" y1="139.6" x2="561.45" y2="142.6" stroke="#333" stroke-width="0.9"/>
<line x1="561.45" y1="213.3" x2="561.45" y2="217.7" stroke="#222" stroke-width="1.0"/>
<text transform="translate(561.15,231.3) scale(1.1,1)" font-size="12.2" fill="#222" text-anchor="middle" font-family='"Liberation Sans", sans-serif'>0</text>
<line x1="572.44" y1="139.6" x2="572.44" y2="142.6" stroke="#333" stroke-width="0.9"/>
<line x1="572.44" y1="213.3" x2="572.44" y2="217.7" stroke="#222" stroke-width="1.0"/>
<text transform="translate(572.14,231.3) scale(1.1,1)" font-size="12.2" fill="#222" text-anchor="middle" font-family='"Liberation Sans", sans-serif'>1</text>
<line x1="583.43" y1="139.6" x2="583.43" y2="142.6" stroke="#333" stroke-width="0.9"/>
<line x1="583.43" y1="213.3" x2="583.43" y2="217.7" stroke="#222" stroke-width="1.0"/>
<text transform="translate(583.13,231.3) scale(1.1,1)" font-size="12.2" fill="#222" text-anchor="middle" font-family='"Liberation Sans", sans-serif'>2</text>
<line x1="594.42" y1="139.6" x2="594.42" y2="142.6" stroke="#333" stroke-width="0.9"/>
<line x1="594.42" y1="213.3" x2="594.42" y2="217.7" stroke="#222" stroke-width="1.0"/>
<text transform="translate(594.12,231.3) scale(1.1,1)" font-size="12.2" fill="#222" text-anchor="middle" font-family='"Liberation Sans", sans-serif'>3</text>
<line x1="605.41" y1="139.6" x2="605.41" y2="142.6" stroke="#333" stroke-width="0.9"/>
<line x1="605.41" y1="213.3" x2="605.41" y2="217.7" stroke="#222" stroke-width="1.0"/>
<text transform="translate(605.11,231.3) scale(1.1,1)" font-size="12.2" fill="#222" text-anchor="middle" font-family='"Liberation Sans", sans-serif'>4</text>
<line x1="616.4" y1="139.6" x2="616.4" y2="142.6" stroke="#333" stroke-width="0.9"/>
<line x1="616.4" y1="213.3" x2="616.4" y2="217.7" stroke="#222" stroke-width="1.0"/>
<text transform="translate(616.1,231.3) scale(1.1,1)" font-size="12.2" fill="#222" text-anchor="middle" font-family='"Liberation Sans", sans-serif'>5</text>
<line x1="627.39" y1="139.6" x2="627.39" y2="142.6" stroke="#333" stroke-width="0.9"/>
<line x1="627.39" y1="213.3" x2="627.39" y2="217.7" stroke="#222" stroke-width="1.0"/>
<text transform="translate(627.09,231.3) scale(1.1,1)" font-size="12.2" fill="#222" text-anchor="middle" font-family='"Liberation Sans", sans-serif'>6</text>
<line x1="638.38" y1="139.6" x2="638.38" y2="142.6" stroke="#333" stroke-width="0.9"/>
<line x1="638.38" y1="213.3" x2="638.38" y2="217.7" stroke="#222" stroke-width="1.0"/>
<text transform="translate(638.08,231.3) scale(1.1,1)" font-size="12.2" fill="#222" text-anchor="middle" font-family='"Liberation Sans", sans-serif'>7</text>
<line x1="649.37" y1="139.6" x2="649.37" y2="142.6" stroke="#333" stroke-width="0.9"/>
<line x1="649.37" y1="213.3" x2="649.37" y2="217.7" stroke="#222" stroke-width="1.0"/>
<text transform="translate(649.07,231.3) scale(1.1,1)" font-size="12.2" fill="#222" text-anchor="middle" font-family='"Liberation Sans", sans-serif'>8</text>
<line x1="660.36" y1="139.6" x2="660.36" y2="142.6" stroke="#333" stroke-width="0.9"/>
<line x1="660.36" y1="213.3" x2="660.36" y2="217.7" stroke="#222" stroke-width="1.0"/>
<text transform="translate(660.06,231.3) scale(1.1,1)" font-size="12.2" fill="#222" text-anchor="middle" font-family='"Liberation Sans", sans-serif'>9</text>
<line x1="671.35" y1="139.6" x2="671.35" y2="142.6" stroke="#333" stroke-width="0.9"/>
<line x1="671.35" y1="213.3" x2="671.35" y2="217.7" stroke="#222" stroke-width="1.0"/>
<text transform="translate(671.55,231.3) scale(1.1,1)" font-size="12.2" fill="#222" text-anchor="middle" font-family='"Liberation Sans", sans-serif'>10</text>
<line x1="552.4" y1="213.3" x2="556.6" y2="213.3" stroke="#333" stroke-width="0.9"/>
<line x1="554.2" y1="203" x2="556.6" y2="203" stroke="#333" stroke-width="0.9"/>
<line x1="552.4" y1="192.7" x2="556.6" y2="192.7" stroke="#333" stroke-width="0.9"/>
<line x1="673.5" y1="192.7" x2="676.5" y2="192.7" stroke="#333" stroke-width="0.9"/>
<line x1="554.2" y1="182.4" x2="556.6" y2="182.4" stroke="#333" stroke-width="0.9"/>
<line x1="552.4" y1="172.1" x2="556.6" y2="172.1" stroke="#333" stroke-width="0.9"/>
<line x1="673.5" y1="172.1" x2="676.5" y2="172.1" stroke="#333" stroke-width="0.9"/>
<line x1="554.2" y1="161.8" x2="556.6" y2="161.8" stroke="#333" stroke-width="0.9"/>
<line x1="552.4" y1="151.5" x2="556.6" y2="151.5" stroke="#333" stroke-width="0.9"/>
<line x1="673.5" y1="151.5" x2="676.5" y2="151.5" stroke="#333" stroke-width="0.9"/>
<line x1="554.2" y1="141.2" x2="556.6" y2="141.2" stroke="#333" stroke-width="0.9"/>
<text x="549.1" y="155.8" font-size="12.3" fill="#222" text-anchor="end" font-family='"Liberation Sans", sans-serif' textLength="18.3" lengthAdjust="spacingAndGlyphs">0.3</text>
<text x="549.1" y="176.4" font-size="12.3" fill="#222" text-anchor="end" font-family='"Liberation Sans", sans-serif' textLength="18.3" lengthAdjust="spacingAndGlyphs">0.2</text>
<text x="549.1" y="197" font-size="12.3" fill="#222" text-anchor="end" font-family='"Liberation Sans", sans-serif' textLength="18.3" lengthAdjust="spacingAndGlyphs">0.1</text>
<text transform="translate(549,217.8) scale(1.12,1)" font-size="12.3" fill="#222" text-anchor="end" font-family='"Liberation Sans", sans-serif'>0</text>
<rect x="612.2" y="151.1" width="12.4" height="7.6" fill="#2f74b7"/>
<rect x="612.2" y="165.2" width="12.4" height="7.0" fill="#a9d0e9"/>
<text x="627.3" y="159.3" font-size="12.6" fill="#1a1a1a" text-anchor="start" font-family='"Liberation Sans", sans-serif' textLength="21.3" lengthAdjust="spacingAndGlyphs">Exp</text>
<text x="627.3" y="173.4" font-size="12.6" fill="#1a1a1a" text-anchor="start" font-family='"Liberation Sans", sans-serif' textLength="39.4" lengthAdjust="spacingAndGlyphs">Theory</text>
<text x="561.4" y="132.3" font-size="14" fill="#1a1a1a" text-anchor="start" font-family='"Liberation Serif", serif' font-style="italic">g</text>
<text x="570.4" y="127.8" font-size="10.2" fill="#1a1a1a" text-anchor="start" font-family='"Liberation Serif", serif' textLength="13.4" lengthAdjust="spacing" stroke="#1a1a1a" stroke-width="0.2">(2)</text>
<text x="568.5" y="137.3" font-size="8.8" fill="#1a1a1a" text-anchor="start" font-family='"Liberation Serif", serif' stroke="#1a1a1a" stroke-width="0.3">90°</text>
<rect x="588.5" y="128.2" width="7.8" height="1.0" fill="#222"/>
<rect x="588.5" y="130.9" width="7.8" height="1.0" fill="#222"/>
<text x="601.3" y="132.7" font-size="12.2" fill="#1a1a1a" text-anchor="start" font-family='"Liberation Sans", sans-serif' textLength="72.7" lengthAdjust="spacingAndGlyphs">1.949±0.003</text>
<text x="612.35" y="245.1" font-size="11.8" fill="#555" text-anchor="middle" font-family='"Liberation Sans", sans-serif' textLength="83" lengthAdjust="spacingAndGlyphs">Photon Number</text>
<text transform="translate(9.0,177.7) rotate(-90)" font-size="11.8" fill="#505050" text-anchor="middle" font-family='"Liberation Sans", sans-serif' textLength="56" lengthAdjust="spacingAndGlyphs">Probability</text></svg>
</body></html>
